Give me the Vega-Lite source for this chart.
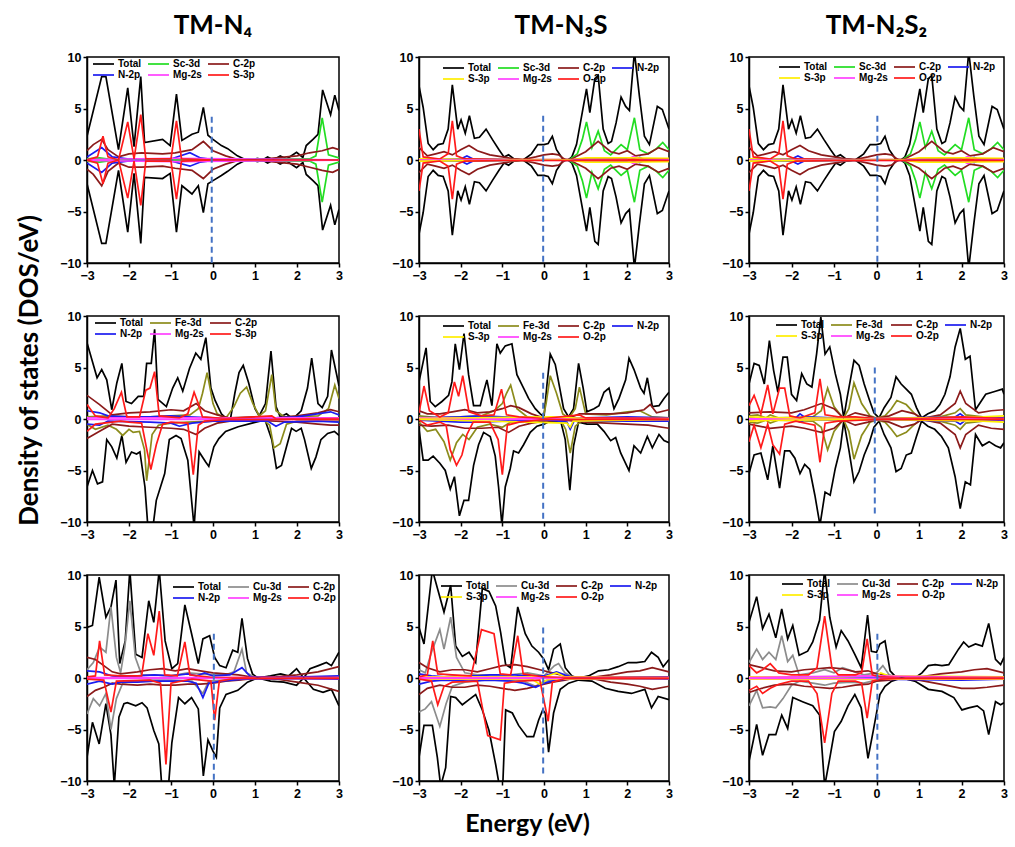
{
"$schema":"https://vega.github.io/schema/vega-lite/v6.json",
"padding":{"left":16,"top":12,"right":4,"bottom":4},
"config":{
"view":{"stroke":"#000","strokeWidth":1.5},
"font":"Liberation Sans",
"line":{"strokeWidth":1.7},
"rule":{"strokeDash":[6,4],"strokeWidth":2},
"axis":{"labelFont":"Liberation Sans","labelFontWeight":"bold","labelFontSize":12.5,"labelColor":"#000","tickColor":"#000","domainColor":"#000","domainWidth":1.5,"tickWidth":1.5,"tickSize":4,"grid":false,"labelPadding":2,"titleFont":"Lato","titleFontWeight":"bold","titleColor":"#000","labelFlush":false},
"axisX":{"tickCount":6},
"axisY":{"tickCount":4},
"legend":{"orient":"none","direction":"horizontal","labelFont":"Liberation Sans","labelFontWeight":"bold","labelFontSize":10,"labelColor":"#000","labelOffset":20,"columnPadding":1,"rowPadding":1,"symbolOpacity":1,"labelLimit":80},
"title":{"font":"Lato","fontSize":26,"fontWeight":"bold","color":"#000","anchor":"middle","frame":"group","offset":12}
},
"datasets":{
"p1":[
{"s":"Total","e":-3,"up":2.3,"dn":-2.3},{"s":"Total","e":-2.65,"up":8.1,"dn":-8.1},{"s":"Total","e":-2.55,"up":8.1,"dn":-8.1},{"s":"Total","e":-2.25,"up":1,"dn":-1},{"s":"Total","e":-2.03,"up":7,"dn":-7},{"s":"Total","e":-1.88,"up":1.3,"dn":-1.3},{"s":"Total","e":-1.72,"up":8.1,"dn":-8.1},{"s":"Total","e":-1.63,"up":1.7,"dn":-1.7},{"s":"Total","e":-1.2,"up":2,"dn":-1.8},{"s":"Total","e":-1.02,"up":1.4,"dn":-1.3},{"s":"Total","e":-0.87,"up":6.4,"dn":-7},{"s":"Total","e":-0.74,"up":1.9,"dn":-2.5},{"s":"Total","e":-0.5,"up":2.5,"dn":-3.3},{"s":"Total","e":-0.35,"up":2.7,"dn":-2.5},{"s":"Total","e":-0.23,"up":5.1,"dn":-5.1},{"s":"Total","e":-0.12,"up":2.4,"dn":-2.3},{"s":"Total","e":0,"up":2,"dn":-2},{"s":"Total","e":0.2,"up":1.4,"dn":-1.5},{"s":"Total","e":0.35,"up":1.1,"dn":-1.1},{"s":"Total","e":0.58,"up":0.4,"dn":-0.4},{"s":"Total","e":0.74,"up":0.1,"dn":-0.1},{"s":"Total","e":1,"up":0,"dn":0},{"s":"Total","e":1.05,"up":0.15,"dn":-0.15},{"s":"Total","e":1.2,"up":0.05,"dn":-0.05},{"s":"Total","e":1.3,"up":0.3,"dn":-0.3},{"s":"Total","e":1.44,"up":0,"dn":0},{"s":"Total","e":1.6,"up":0.4,"dn":-0.4},{"s":"Total","e":1.75,"up":0.1,"dn":-0.1},{"s":"Total","e":1.99,"up":0.75,"dn":-0.75},{"s":"Total","e":2.14,"up":0.25,"dn":-0.25},{"s":"Total","e":2.22,"up":1.4,"dn":-1.4},{"s":"Total","e":2.38,"up":2,"dn":-2},{"s":"Total","e":2.5,"up":2.5,"dn":-2.5},{"s":"Total","e":2.61,"up":6.8,"dn":-6.8},{"s":"Total","e":2.8,"up":4.4,"dn":-4.4},{"s":"Total","e":2.9,"up":6.3,"dn":-6.3},{"s":"Total","e":3,"up":4.8,"dn":-4.8},
{"s":"Sc-3d","e":-3,"up":0.1,"dn":-0.1},{"s":"Sc-3d","e":-2.7,"up":0.2,"dn":-0.2},{"s":"Sc-3d","e":-2.4,"up":0.05,"dn":-0.05},{"s":"Sc-3d","e":2.3,"up":0.1,"dn":-0.1},{"s":"Sc-3d","e":2.45,"up":0.4,"dn":-0.4},{"s":"Sc-3d","e":2.6,"up":4.1,"dn":-4.1},{"s":"Sc-3d","e":2.75,"up":0.5,"dn":-0.5},{"s":"Sc-3d","e":3,"up":0.2,"dn":-0.2},
{"s":"C-2p","e":-3,"up":0.9,"dn":-0.9},{"s":"C-2p","e":-2.85,"up":1.5,"dn":-1.4},{"s":"C-2p","e":-2.65,"up":2,"dn":-2.5},{"s":"C-2p","e":-2.5,"up":1,"dn":-1.1},{"s":"C-2p","e":-2.25,"up":0.3,"dn":-0.3},{"s":"C-2p","e":-2,"up":0.6,"dn":-0.7},{"s":"C-2p","e":-1.7,"up":0.7,"dn":-0.7},{"s":"C-2p","e":-1.2,"up":0.6,"dn":-0.6},{"s":"C-2p","e":-0.9,"up":0.7,"dn":-0.8},{"s":"C-2p","e":-0.5,"up":1,"dn":-1},{"s":"C-2p","e":-0.23,"up":1.8,"dn":-1.8},{"s":"C-2p","e":0,"up":0.9,"dn":-0.9},{"s":"C-2p","e":0.3,"up":0.4,"dn":-0.4},{"s":"C-2p","e":0.6,"up":0.05,"dn":-0.05},{"s":"C-2p","e":1,"up":0,"dn":0},{"s":"C-2p","e":1.5,"up":0.2,"dn":-0.2},{"s":"C-2p","e":2,"up":0.4,"dn":-0.4},{"s":"C-2p","e":2.3,"up":0.7,"dn":-0.7},{"s":"C-2p","e":2.6,"up":0.9,"dn":-1},{"s":"C-2p","e":2.85,"up":1.2,"dn":-1.2},{"s":"C-2p","e":3,"up":1,"dn":-0.9},
{"s":"N-2p","e":-3,"up":0.3,"dn":-0.3},{"s":"N-2p","e":-2.65,"up":1.2,"dn":-1.2},{"s":"N-2p","e":-2.4,"up":0.3,"dn":-0.3},{"s":"N-2p","e":-2,"up":0.1,"dn":-0.1},{"s":"N-2p","e":-1,"up":0.1,"dn":-0.1},{"s":"N-2p","e":-0.55,"up":0.7,"dn":-0.6},{"s":"N-2p","e":-0.3,"up":0.2,"dn":-0.2},{"s":"N-2p","e":0,"up":0.05,"dn":-0.05},{"s":"N-2p","e":3,"up":0,"dn":0},
{"s":"Mg-2s","e":-3,"up":0.05,"dn":-0.05},{"s":"Mg-2s","e":-0.9,"up":0.15,"dn":-0.15},{"s":"Mg-2s","e":3,"up":0.02,"dn":-0.02},
{"s":"S-3p","e":-3,"up":0,"dn":0},{"s":"S-3p","e":-2.75,"up":0.3,"dn":-0.3},{"s":"S-3p","e":-2.62,"up":2.3,"dn":-2.3},{"s":"S-3p","e":-2.5,"up":0.3,"dn":-0.3},{"s":"S-3p","e":-2.25,"up":0,"dn":0},{"s":"S-3p","e":-2.03,"up":3.7,"dn":-3.7},{"s":"S-3p","e":-1.88,"up":0.1,"dn":-0.1},{"s":"S-3p","e":-1.72,"up":4.4,"dn":-4.4},{"s":"S-3p","e":-1.6,"up":0.1,"dn":-0.1},{"s":"S-3p","e":-1,"up":0.1,"dn":-0.1},{"s":"S-3p","e":-0.87,"up":3.8,"dn":-3.8},{"s":"S-3p","e":-0.75,"up":0.1,"dn":-0.1},{"s":"S-3p","e":0,"up":0,"dn":0},{"s":"S-3p","e":3,"up":0,"dn":0}
],
"p2":[
{"s":"Total","e":-3,"up":7.2,"dn":-7.2},{"s":"Total","e":-2.9,"up":5.1,"dn":-5.1},{"s":"Total","e":-2.78,"up":1.6,"dn":-1.6},{"s":"Total","e":-2.66,"up":1,"dn":-1},{"s":"Total","e":-2.54,"up":1.5,"dn":-1.5},{"s":"Total","e":-2.42,"up":1.6,"dn":-1.6},{"s":"Total","e":-2.3,"up":3,"dn":-3},{"s":"Total","e":-2.2,"up":7.3,"dn":-7.3},{"s":"Total","e":-2.07,"up":3,"dn":-3},{"s":"Total","e":-1.99,"up":3.9,"dn":-3.9},{"s":"Total","e":-1.89,"up":2.6,"dn":-2.6},{"s":"Total","e":-1.79,"up":4.3,"dn":-4.3},{"s":"Total","e":-1.67,"up":2.1,"dn":-2.1},{"s":"Total","e":-1.55,"up":2.2,"dn":-2.2},{"s":"Total","e":-1.39,"up":3,"dn":-3},{"s":"Total","e":-1.24,"up":2,"dn":-2},{"s":"Total","e":-1.08,"up":1,"dn":-1},{"s":"Total","e":-0.96,"up":0.3,"dn":-0.3},{"s":"Total","e":-0.85,"up":0.5,"dn":-0.5},{"s":"Total","e":-0.72,"up":0.1,"dn":-0.1},{"s":"Total","e":-0.5,"up":0,"dn":0},{"s":"Total","e":-0.3,"up":0.6,"dn":-0.6},{"s":"Total","e":-0.15,"up":1.5,"dn":-1.5},{"s":"Total","e":0,"up":1.5,"dn":-1.5},{"s":"Total","e":0.1,"up":1.6,"dn":-1.6},{"s":"Total","e":0.2,"up":2.3,"dn":-2.3},{"s":"Total","e":0.3,"up":1,"dn":-1},{"s":"Total","e":0.45,"up":0.1,"dn":-0.1},{"s":"Total","e":0.58,"up":0,"dn":0},{"s":"Total","e":0.67,"up":0.3,"dn":-0.3},{"s":"Total","e":0.78,"up":1.5,"dn":-1.5},{"s":"Total","e":1.02,"up":6.9,"dn":-6.9},{"s":"Total","e":1.1,"up":4.6,"dn":-4.6},{"s":"Total","e":1.22,"up":7.9,"dn":-7.9},{"s":"Total","e":1.3,"up":8.2,"dn":-8.2},{"s":"Total","e":1.42,"up":3,"dn":-3},{"s":"Total","e":1.54,"up":1.6,"dn":-1.6},{"s":"Total","e":1.62,"up":1.8,"dn":-1.8},{"s":"Total","e":1.73,"up":3.6,"dn":-3.6},{"s":"Total","e":1.85,"up":6.1,"dn":-6.1},{"s":"Total","e":1.96,"up":5.2,"dn":-5.2},{"s":"Total","e":2.05,"up":4.8,"dn":-4.8},{"s":"Total","e":2.17,"up":10.5,"dn":-10.5},{"s":"Total","e":2.29,"up":6.2,"dn":-6.2},{"s":"Total","e":2.41,"up":2.3,"dn":-2.3},{"s":"Total","e":2.53,"up":1.5,"dn":-1.5},{"s":"Total","e":2.72,"up":5.2,"dn":-5.2},{"s":"Total","e":2.84,"up":4.9,"dn":-4.9},{"s":"Total","e":3,"up":3,"dn":-3},
{"s":"Sc-3d","e":-3,"up":0.1,"dn":-0.1},{"s":"Sc-3d","e":-2.7,"up":0.1,"dn":-0.1},{"s":"Sc-3d","e":-2.5,"up":0.05,"dn":-0.05},{"s":"Sc-3d","e":0.6,"up":0,"dn":0},{"s":"Sc-3d","e":0.8,"up":0.6,"dn":-0.6},{"s":"Sc-3d","e":0.92,"up":2,"dn":-2},{"s":"Sc-3d","e":1.02,"up":3.7,"dn":-3.7},{"s":"Sc-3d","e":1.15,"up":1.2,"dn":-1.2},{"s":"Sc-3d","e":1.3,"up":2.8,"dn":-2.8},{"s":"Sc-3d","e":1.45,"up":0.9,"dn":-0.9},{"s":"Sc-3d","e":1.6,"up":0.5,"dn":-0.5},{"s":"Sc-3d","e":1.85,"up":1.5,"dn":-1.5},{"s":"Sc-3d","e":2,"up":1,"dn":-1},{"s":"Sc-3d","e":2.17,"up":4.1,"dn":-4.1},{"s":"Sc-3d","e":2.3,"up":1,"dn":-1},{"s":"Sc-3d","e":2.5,"up":0.6,"dn":-0.6},{"s":"Sc-3d","e":2.7,"up":1.1,"dn":-1.1},{"s":"Sc-3d","e":2.85,"up":1.7,"dn":-1.7},{"s":"Sc-3d","e":3,"up":1,"dn":-1},
{"s":"C-2p","e":-3,"up":1.2,"dn":-1.2},{"s":"C-2p","e":-2.8,"up":0.4,"dn":-0.4},{"s":"C-2p","e":-2.6,"up":0.6,"dn":-0.6},{"s":"C-2p","e":-2.4,"up":0.8,"dn":-0.8},{"s":"C-2p","e":-2.2,"up":0.5,"dn":-0.5},{"s":"C-2p","e":-2,"up":1,"dn":-1},{"s":"C-2p","e":-1.8,"up":1.4,"dn":-1.4},{"s":"C-2p","e":-1.6,"up":0.9,"dn":-0.9},{"s":"C-2p","e":-1.3,"up":0.5,"dn":-0.5},{"s":"C-2p","e":-1,"up":0.3,"dn":-0.3},{"s":"C-2p","e":-0.7,"up":0.1,"dn":-0.1},{"s":"C-2p","e":-0.5,"up":0.05,"dn":-0.05},{"s":"C-2p","e":-0.2,"up":0.3,"dn":-0.3},{"s":"C-2p","e":0,"up":0.5,"dn":-0.5},{"s":"C-2p","e":0.2,"up":0.6,"dn":-0.6},{"s":"C-2p","e":0.35,"up":0.5,"dn":-0.5},{"s":"C-2p","e":0.5,"up":0.05,"dn":-0.05},{"s":"C-2p","e":0.65,"up":0.05,"dn":-0.05},{"s":"C-2p","e":0.8,"up":0.4,"dn":-0.4},{"s":"C-2p","e":1,"up":0.8,"dn":-0.8},{"s":"C-2p","e":1.3,"up":1.8,"dn":-1.8},{"s":"C-2p","e":1.6,"up":0.8,"dn":-0.8},{"s":"C-2p","e":1.8,"up":0.6,"dn":-0.6},{"s":"C-2p","e":2,"up":0.9,"dn":-0.9},{"s":"C-2p","e":2.2,"up":0.4,"dn":-0.4},{"s":"C-2p","e":2.5,"up":0.6,"dn":-0.6},{"s":"C-2p","e":2.75,"up":1.2,"dn":-1.2},{"s":"C-2p","e":3,"up":0.8,"dn":-0.8},
{"s":"N-2p","e":-3,"up":0.05,"dn":-0.05},{"s":"N-2p","e":-2,"up":0.1,"dn":-0.1},{"s":"N-2p","e":-1.85,"up":0.4,"dn":-0.4},{"s":"N-2p","e":-1.7,"up":0.1,"dn":-0.1},{"s":"N-2p","e":0,"up":0,"dn":0},{"s":"N-2p","e":2.2,"up":0.1,"dn":-0.1},{"s":"N-2p","e":2.3,"up":0.25,"dn":-0.25},{"s":"N-2p","e":2.4,"up":0.05,"dn":-0.05},{"s":"N-2p","e":3,"up":0.05,"dn":-0.05},
{"s":"Mg-2s","e":-3,"up":0,"dn":0},{"s":"Mg-2s","e":2,"up":0.05,"dn":-0.05},{"s":"Mg-2s","e":2.15,"up":0.35,"dn":-0.35},{"s":"Mg-2s","e":2.3,"up":0.05,"dn":-0.05},{"s":"Mg-2s","e":3,"up":0,"dn":0},
{"s":"S-3p","e":-3,"up":0.1,"dn":-0.1},{"s":"S-3p","e":-1,"up":0.05,"dn":-0.05},{"s":"S-3p","e":0.6,"up":0,"dn":0},{"s":"S-3p","e":1,"up":0.2,"dn":-0.2},{"s":"S-3p","e":2,"up":0.2,"dn":-0.2},{"s":"S-3p","e":3,"up":0.15,"dn":-0.15},
{"s":"O-2p","e":-3,"up":3,"dn":-3},{"s":"O-2p","e":-2.9,"up":0.3,"dn":-0.3},{"s":"O-2p","e":-2.5,"up":0.1,"dn":-0.1},{"s":"O-2p","e":-2.3,"up":0.6,"dn":-0.6},{"s":"O-2p","e":-2.2,"up":3.8,"dn":-3.8},{"s":"O-2p","e":-2.1,"up":0.4,"dn":-0.4},{"s":"O-2p","e":-1.9,"up":0.1,"dn":-0.1},{"s":"O-2p","e":-1,"up":0.05,"dn":-0.05},{"s":"O-2p","e":3,"up":0.05,"dn":-0.05}
],
"p4":[
{"s":"Total","e":-3,"up":7.4},{"s":"Total","e":-2.76,"up":4},{"s":"Total","e":-2.65,"up":4.8},{"s":"Total","e":-2.53,"up":3.8},{"s":"Total","e":-2.41,"up":0.9},{"s":"Total","e":-2.29,"up":3.5},{"s":"Total","e":-2.17,"up":5.4},{"s":"Total","e":-2.07,"up":1.7},{"s":"Total","e":-1.94,"up":1.5},{"s":"Total","e":-1.78,"up":2.2},{"s":"Total","e":-1.65,"up":2.2},{"s":"Total","e":-1.58,"up":5.4},{"s":"Total","e":-1.47,"up":5.4},{"s":"Total","e":-1.39,"up":8.7},{"s":"Total","e":-1.31,"up":1.9},{"s":"Total","e":-1.11,"up":1.2},{"s":"Total","e":-0.96,"up":3},{"s":"Total","e":-0.84,"up":4},{"s":"Total","e":-0.72,"up":2.7},{"s":"Total","e":-0.56,"up":4.9},{"s":"Total","e":-0.41,"up":6.4},{"s":"Total","e":-0.29,"up":5.8},{"s":"Total","e":-0.17,"up":7.9},{"s":"Total","e":-0.05,"up":3},{"s":"Total","e":0.05,"up":1.8},{"s":"Total","e":0.2,"up":0.5},{"s":"Total","e":0.3,"up":0.1},{"s":"Total","e":0.42,"up":0.1},{"s":"Total","e":0.52,"up":2.5},{"s":"Total","e":0.62,"up":4.5},{"s":"Total","e":0.72,"up":5.2},{"s":"Total","e":0.85,"up":3.5},{"s":"Total","e":1,"up":1},{"s":"Total","e":1.1,"up":0.3},{"s":"Total","e":1.25,"up":1.5},{"s":"Total","e":1.38,"up":6.6},{"s":"Total","e":1.5,"up":1.2},{"s":"Total","e":1.6,"up":0.2},{"s":"Total","e":1.75,"up":0.5},{"s":"Total","e":1.9,"up":0},{"s":"Total","e":2,"up":0.4},{"s":"Total","e":2.1,"up":0.8},{"s":"Total","e":2.25,"up":3},{"s":"Total","e":2.35,"up":5.9},{"s":"Total","e":2.5,"up":1.5},{"s":"Total","e":2.6,"up":1.1},{"s":"Total","e":2.73,"up":2.2},{"s":"Total","e":2.82,"up":6.7},{"s":"Total","e":2.95,"up":4.2},{"s":"Total","e":3,"up":3.2},
{"s":"Total","e":-3,"dn":-6.6},{"s":"Total","e":-2.87,"dn":-5},{"s":"Total","e":-2.75,"dn":-6.3},{"s":"Total","e":-2.63,"dn":-6.1},{"s":"Total","e":-2.53,"dn":-2},{"s":"Total","e":-2.41,"dn":-2.7},{"s":"Total","e":-2.29,"dn":-3.8},{"s":"Total","e":-2.17,"dn":-1.6},{"s":"Total","e":-2.07,"dn":-4.2},{"s":"Total","e":-1.94,"dn":-3.2},{"s":"Total","e":-1.82,"dn":-3.4},{"s":"Total","e":-1.74,"dn":-3.2},{"s":"Total","e":-1.62,"dn":-6.6},{"s":"Total","e":-1.55,"dn":-10.5},{"s":"Total","e":-1.43,"dn":-10.5},{"s":"Total","e":-1.35,"dn":-7.9},{"s":"Total","e":-1.15,"dn":-5.3},{"s":"Total","e":-1.04,"dn":-2},{"s":"Total","e":-0.88,"dn":-1.6},{"s":"Total","e":-0.76,"dn":-1.9},{"s":"Total","e":-0.6,"dn":-4},{"s":"Total","e":-0.45,"dn":-10.5},{"s":"Total","e":-0.33,"dn":-3.2},{"s":"Total","e":-0.17,"dn":-4.2},{"s":"Total","e":-0.1,"dn":-4.6},{"s":"Total","e":0.02,"dn":-2.7},{"s":"Total","e":0.14,"dn":-1.9},{"s":"Total","e":0.3,"dn":-1.2},{"s":"Total","e":0.6,"dn":-0.75},{"s":"Total","e":0.93,"dn":-0.4},{"s":"Total","e":1.24,"dn":-0.1},{"s":"Total","e":1.4,"dn":-2},{"s":"Total","e":1.51,"dn":-4.8},{"s":"Total","e":1.63,"dn":-4.5},{"s":"Total","e":1.75,"dn":-2.7},{"s":"Total","e":1.87,"dn":-0.9},{"s":"Total","e":1.98,"dn":-1.2},{"s":"Total","e":2.1,"dn":-0.9},{"s":"Total","e":2.18,"dn":-2},{"s":"Total","e":2.34,"dn":-4.8},{"s":"Total","e":2.45,"dn":-3.7},{"s":"Total","e":2.57,"dn":-2},{"s":"Total","e":2.73,"dn":-1.4},{"s":"Total","e":2.89,"dn":-1.2},{"s":"Total","e":3,"dn":-1.6},
{"s":"Fe-3d","e":-3,"up":0.2},{"s":"Fe-3d","e":-2.5,"up":0.3},{"s":"Fe-3d","e":-2,"up":0.2},{"s":"Fe-3d","e":-1.5,"up":0.2},{"s":"Fe-3d","e":-1,"up":0.3},{"s":"Fe-3d","e":-0.55,"up":0.4},{"s":"Fe-3d","e":-0.35,"up":1},{"s":"Fe-3d","e":-0.25,"up":2.5},{"s":"Fe-3d","e":-0.14,"up":4.5},{"s":"Fe-3d","e":0,"up":1.5},{"s":"Fe-3d","e":0.1,"up":0.5},{"s":"Fe-3d","e":0.3,"up":0.05},{"s":"Fe-3d","e":0.5,"up":1.2},{"s":"Fe-3d","e":0.65,"up":2.5},{"s":"Fe-3d","e":0.8,"up":3.1},{"s":"Fe-3d","e":0.95,"up":1.5},{"s":"Fe-3d","e":1.1,"up":0.3},{"s":"Fe-3d","e":1.25,"up":0.8},{"s":"Fe-3d","e":1.4,"up":4.3},{"s":"Fe-3d","e":1.5,"up":0.8},{"s":"Fe-3d","e":1.7,"up":0.2},{"s":"Fe-3d","e":2.5,"up":0.3},{"s":"Fe-3d","e":2.75,"up":1},{"s":"Fe-3d","e":2.9,"up":3.3},{"s":"Fe-3d","e":3,"up":2},
{"s":"Fe-3d","e":-3,"dn":-0.5},{"s":"Fe-3d","e":-2.8,"dn":-1},{"s":"Fe-3d","e":-2.5,"dn":-0.6},{"s":"Fe-3d","e":-2.3,"dn":-1},{"s":"Fe-3d","e":-2.15,"dn":-1.6},{"s":"Fe-3d","e":-2,"dn":-1},{"s":"Fe-3d","e":-1.9,"dn":-1.3},{"s":"Fe-3d","e":-1.75,"dn":-1.2},{"s":"Fe-3d","e":-1.63,"dn":-3},{"s":"Fe-3d","e":-1.58,"dn":-6},{"s":"Fe-3d","e":-1.45,"dn":-1.5},{"s":"Fe-3d","e":-1.3,"dn":-0.6},{"s":"Fe-3d","e":-1,"dn":-0.4},{"s":"Fe-3d","e":-0.6,"dn":-0.3},{"s":"Fe-3d","e":0,"dn":-0.2},{"s":"Fe-3d","e":0.5,"dn":-0.1},{"s":"Fe-3d","e":1.2,"dn":-0.1},{"s":"Fe-3d","e":1.35,"dn":-0.6},{"s":"Fe-3d","e":1.45,"dn":-2.8},{"s":"Fe-3d","e":1.6,"dn":-2.4},{"s":"Fe-3d","e":1.75,"dn":-0.5},{"s":"Fe-3d","e":2,"dn":-0.2},{"s":"Fe-3d","e":3,"dn":-0.2},
{"s":"C-2p","e":-3,"up":2.3,"dn":-1.9},{"s":"C-2p","e":-2.7,"up":1.4,"dn":-1.2},{"s":"C-2p","e":-2.4,"up":0.4,"dn":-0.5},{"s":"C-2p","e":-2,"up":0.6,"dn":-0.7},{"s":"C-2p","e":-1.5,"up":0.7,"dn":-0.8},{"s":"C-2p","e":-1,"up":0.9,"dn":-0.9},{"s":"C-2p","e":-0.7,"up":0.8,"dn":-1},{"s":"C-2p","e":-0.4,"up":1.5,"dn":-1.5},{"s":"C-2p","e":-0.2,"up":0.8,"dn":-0.9},{"s":"C-2p","e":0.1,"up":0.4,"dn":-0.4},{"s":"C-2p","e":0.4,"up":0.1,"dn":-0.2},{"s":"C-2p","e":1,"up":0.2,"dn":-0.1},{"s":"C-2p","e":1.5,"up":0.1,"dn":-0.2},{"s":"C-2p","e":2,"up":0.3,"dn":-0.3},{"s":"C-2p","e":2.5,"up":0.6,"dn":-0.5},{"s":"C-2p","e":2.8,"up":0.9,"dn":-0.6},{"s":"C-2p","e":3,"up":0.7,"dn":-0.6},
{"s":"N-2p","e":-3,"up":0.8},{"s":"N-2p","e":-2.7,"up":0.6},{"s":"N-2p","e":-2.5,"up":0.3},{"s":"N-2p","e":-2,"up":0.2},{"s":"N-2p","e":-1.5,"up":0.2},{"s":"N-2p","e":-1,"up":0.3},{"s":"N-2p","e":-0.6,"up":0.2},{"s":"N-2p","e":0,"up":0.1},{"s":"N-2p","e":1,"up":0.05},{"s":"N-2p","e":1.5,"up":0.1},{"s":"N-2p","e":2,"up":0.2},{"s":"N-2p","e":2.8,"up":0.7},{"s":"N-2p","e":3,"up":0.4},
{"s":"N-2p","e":-3,"dn":-0.5},{"s":"N-2p","e":-2.7,"dn":-0.6},{"s":"N-2p","e":-2.5,"dn":-0.2},{"s":"N-2p","e":-1.5,"dn":-0.3},{"s":"N-2p","e":-1,"dn":-0.4},{"s":"N-2p","e":-0.8,"dn":-0.7},{"s":"N-2p","e":-0.5,"dn":-0.4},{"s":"N-2p","e":0,"dn":-0.2},{"s":"N-2p","e":1.3,"dn":-0.2},{"s":"N-2p","e":1.5,"dn":-0.7},{"s":"N-2p","e":1.7,"dn":-0.3},{"s":"N-2p","e":2.5,"dn":-0.2},{"s":"N-2p","e":3,"dn":-0.3},
{"s":"Mg-2s","e":-3,"up":0.1,"dn":-0.05},{"s":"Mg-2s","e":0,"up":0.1,"dn":-0.05},{"s":"Mg-2s","e":3,"up":0.1,"dn":-0.05},
{"s":"S-3p","e":-3,"up":1.4},{"s":"S-3p","e":-2.8,"up":0.3},{"s":"S-3p","e":-2.5,"up":0.1},{"s":"S-3p","e":-2.35,"up":1},{"s":"S-3p","e":-2.18,"up":2.6},{"s":"S-3p","e":-2.05,"up":0.2},{"s":"S-3p","e":-1.75,"up":0.2},{"s":"S-3p","e":-1.6,"up":2.8},{"s":"S-3p","e":-1.5,"up":3},{"s":"S-3p","e":-1.39,"up":4.6},{"s":"S-3p","e":-1.28,"up":0.3},{"s":"S-3p","e":-0.8,"up":0.1},{"s":"S-3p","e":-0.6,"up":0.5},{"s":"S-3p","e":-0.45,"up":2.6},{"s":"S-3p","e":-0.35,"up":1.5},{"s":"S-3p","e":-0.25,"up":0.2},{"s":"S-3p","e":0.3,"up":0.05},{"s":"S-3p","e":1.4,"up":0.3},{"s":"S-3p","e":1.5,"up":0},{"s":"S-3p","e":3,"up":0.05},
{"s":"S-3p","e":-3,"dn":-1.2},{"s":"S-3p","e":-2.8,"dn":-0.5},{"s":"S-3p","e":-2.2,"dn":-0.2},{"s":"S-3p","e":-2,"dn":-0.3},{"s":"S-3p","e":-1.7,"dn":-0.4},{"s":"S-3p","e":-1.55,"dn":-3.5},{"s":"S-3p","e":-1.48,"dn":-4.9},{"s":"S-3p","e":-1.35,"dn":-2.5},{"s":"S-3p","e":-1.2,"dn":-0.5},{"s":"S-3p","e":-1,"dn":-0.3},{"s":"S-3p","e":-0.6,"dn":-0.4},{"s":"S-3p","e":-0.47,"dn":-5.4},{"s":"S-3p","e":-0.35,"dn":-0.6},{"s":"S-3p","e":-0.2,"dn":-0.2},{"s":"S-3p","e":0.3,"dn":-0.05},{"s":"S-3p","e":3,"dn":-0.05}
],
"p5":[
{"s":"Total","e":-3,"up":3.6},{"s":"Total","e":-2.83,"up":6.9},{"s":"Total","e":-2.73,"up":1.7},{"s":"Total","e":-2.61,"up":1.2},{"s":"Total","e":-2.45,"up":1.7},{"s":"Total","e":-2.29,"up":2.3},{"s":"Total","e":-2.21,"up":3.6},{"s":"Total","e":-2.13,"up":7.3},{"s":"Total","e":-2.03,"up":4.8},{"s":"Total","e":-1.92,"up":8.3},{"s":"Total","e":-1.81,"up":4.3},{"s":"Total","e":-1.69,"up":1.3},{"s":"Total","e":-1.53,"up":1.3},{"s":"Total","e":-1.45,"up":2.6},{"s":"Total","e":-1.37,"up":3.8},{"s":"Total","e":-1.25,"up":1.3},{"s":"Total","e":-1.13,"up":7.3},{"s":"Total","e":-1.05,"up":6.4},{"s":"Total","e":-0.93,"up":7.1},{"s":"Total","e":-0.77,"up":7.3},{"s":"Total","e":-0.65,"up":4.3},{"s":"Total","e":-0.49,"up":3},{"s":"Total","e":-0.37,"up":2},{"s":"Total","e":-0.21,"up":1},{"s":"Total","e":-0.09,"up":0.5},{"s":"Total","e":0,"up":0.2},{"s":"Total","e":0.07,"up":3.3},{"s":"Total","e":0.15,"up":6.3},{"s":"Total","e":0.27,"up":5.3},{"s":"Total","e":0.35,"up":3.6},{"s":"Total","e":0.47,"up":1},{"s":"Total","e":0.59,"up":0.2},{"s":"Total","e":0.71,"up":1},{"s":"Total","e":0.83,"up":5.4},{"s":"Total","e":0.94,"up":3},{"s":"Total","e":1.03,"up":0.7},{"s":"Total","e":1.2,"up":1},{"s":"Total","e":1.32,"up":1.3},{"s":"Total","e":1.44,"up":2.6},{"s":"Total","e":1.56,"up":3},{"s":"Total","e":1.68,"up":1},{"s":"Total","e":1.8,"up":2},{"s":"Total","e":1.96,"up":3.8},{"s":"Total","e":2.04,"up":5.9},{"s":"Total","e":2.16,"up":4.8},{"s":"Total","e":2.32,"up":3},{"s":"Total","e":2.4,"up":2.5},{"s":"Total","e":2.48,"up":4},{"s":"Total","e":2.6,"up":1.2},{"s":"Total","e":2.76,"up":1.3},{"s":"Total","e":2.88,"up":2},{"s":"Total","e":3,"up":2.6},
{"s":"Total","e":-3,"dn":-1},{"s":"Total","e":-2.9,"dn":-4},{"s":"Total","e":-2.78,"dn":-4},{"s":"Total","e":-2.66,"dn":-3.6},{"s":"Total","e":-2.5,"dn":-4.3},{"s":"Total","e":-2.37,"dn":-5},{"s":"Total","e":-2.25,"dn":-6.8},{"s":"Total","e":-2.15,"dn":-5.6},{"s":"Total","e":-2.03,"dn":-9.4},{"s":"Total","e":-1.92,"dn":-7.9},{"s":"Total","e":-1.81,"dn":-7.9},{"s":"Total","e":-1.69,"dn":-4.5},{"s":"Total","e":-1.57,"dn":-2.5},{"s":"Total","e":-1.45,"dn":-1.3},{"s":"Total","e":-1.29,"dn":-1.7},{"s":"Total","e":-1.17,"dn":-3.6},{"s":"Total","e":-1.09,"dn":-6.6},{"s":"Total","e":-1.01,"dn":-10.3},{"s":"Total","e":-0.93,"dn":-6.6},{"s":"Total","e":-0.81,"dn":-4.8},{"s":"Total","e":-0.73,"dn":-3.1},{"s":"Total","e":-0.61,"dn":-3.3},{"s":"Total","e":-0.49,"dn":-2.5},{"s":"Total","e":-0.33,"dn":-1.3},{"s":"Total","e":-0.17,"dn":-0.7},{"s":"Total","e":0,"dn":-0.5},{"s":"Total","e":0.15,"dn":-0.2},{"s":"Total","e":0.4,"dn":-0.2},{"s":"Total","e":0.51,"dn":-2},{"s":"Total","e":0.62,"dn":-6.9},{"s":"Total","e":0.71,"dn":-2.6},{"s":"Total","e":0.83,"dn":-0.3},{"s":"Total","e":1.03,"dn":-0.5},{"s":"Total","e":1.28,"dn":-0.5},{"s":"Total","e":1.44,"dn":-1.2},{"s":"Total","e":1.6,"dn":-2.1},{"s":"Total","e":1.72,"dn":-1.8},{"s":"Total","e":1.84,"dn":-3.3},{"s":"Total","e":2.04,"dn":-5},{"s":"Total","e":2.16,"dn":-2.6},{"s":"Total","e":2.32,"dn":-3.3},{"s":"Total","e":2.48,"dn":-1.7},{"s":"Total","e":2.6,"dn":-2.8},{"s":"Total","e":2.76,"dn":-1.5},{"s":"Total","e":2.88,"dn":-2.1},{"s":"Total","e":3,"dn":-2.3},
{"s":"Fe-3d","e":-3,"up":0.3},{"s":"Fe-3d","e":-2.5,"up":0.1},{"s":"Fe-3d","e":-2,"up":0.2},{"s":"Fe-3d","e":-1.5,"up":0.3},{"s":"Fe-3d","e":-1.2,"up":0.8},{"s":"Fe-3d","e":-1,"up":1.5},{"s":"Fe-3d","e":-0.9,"up":2.5},{"s":"Fe-3d","e":-0.8,"up":3.3},{"s":"Fe-3d","e":-0.65,"up":1},{"s":"Fe-3d","e":-0.4,"up":0.2},{"s":"Fe-3d","e":-0.02,"up":0.1},{"s":"Fe-3d","e":0.05,"up":1.5},{"s":"Fe-3d","e":0.15,"up":4.2},{"s":"Fe-3d","e":0.3,"up":2.5},{"s":"Fe-3d","e":0.45,"up":0.5},{"s":"Fe-3d","e":0.6,"up":0.1},{"s":"Fe-3d","e":0.75,"up":1},{"s":"Fe-3d","e":0.85,"up":3.1},{"s":"Fe-3d","e":1,"up":0.5},{"s":"Fe-3d","e":1.5,"up":0.4},{"s":"Fe-3d","e":2,"up":0.7},{"s":"Fe-3d","e":2.3,"up":0.8},{"s":"Fe-3d","e":2.6,"up":0.2},{"s":"Fe-3d","e":3,"up":0.1},
{"s":"Fe-3d","e":-3,"dn":-0.3},{"s":"Fe-3d","e":-2.8,"dn":-1.2},{"s":"Fe-3d","e":-2.6,"dn":-1},{"s":"Fe-3d","e":-2.4,"dn":-2.2},{"s":"Fe-3d","e":-2.25,"dn":-4},{"s":"Fe-3d","e":-2.1,"dn":-2.3},{"s":"Fe-3d","e":-1.95,"dn":-1.5},{"s":"Fe-3d","e":-1.8,"dn":-2},{"s":"Fe-3d","e":-1.6,"dn":-0.8},{"s":"Fe-3d","e":-1.3,"dn":-0.5},{"s":"Fe-3d","e":-1,"dn":-0.8},{"s":"Fe-3d","e":-0.8,"dn":-0.3},{"s":"Fe-3d","e":-0.4,"dn":-0.2},{"s":"Fe-3d","e":0,"dn":-0.1},{"s":"Fe-3d","e":0.4,"dn":-0.1},{"s":"Fe-3d","e":0.52,"dn":-1},{"s":"Fe-3d","e":0.63,"dn":-3.3},{"s":"Fe-3d","e":0.75,"dn":-0.7},{"s":"Fe-3d","e":0.9,"dn":-0.2},{"s":"Fe-3d","e":3,"dn":-0.1},
{"s":"C-2p","e":-3,"up":0.8},{"s":"C-2p","e":-2.8,"up":0.5},{"s":"C-2p","e":-2.5,"up":0.5},{"s":"C-2p","e":-2.2,"up":0.7},{"s":"C-2p","e":-1.9,"up":0.9},{"s":"C-2p","e":-1.6,"up":0.6},{"s":"C-2p","e":-1.3,"up":0.7},{"s":"C-2p","e":-1,"up":1},{"s":"C-2p","e":-0.8,"up":1.3},{"s":"C-2p","e":-0.6,"up":1.1},{"s":"C-2p","e":-0.3,"up":0.5},{"s":"C-2p","e":0,"up":0.1},{"s":"C-2p","e":0.6,"up":0.1},{"s":"C-2p","e":0.85,"up":0.5},{"s":"C-2p","e":1.2,"up":0.5},{"s":"C-2p","e":1.6,"up":0.5},{"s":"C-2p","e":2,"up":0.6},{"s":"C-2p","e":2.4,"up":0.9},{"s":"C-2p","e":2.55,"up":1.4},{"s":"C-2p","e":2.7,"up":0.6},{"s":"C-2p","e":3,"up":0.9},
{"s":"C-2p","e":-3,"dn":-0.6},{"s":"C-2p","e":-2.7,"dn":-0.7},{"s":"C-2p","e":-2.3,"dn":-0.6},{"s":"C-2p","e":-1.9,"dn":-0.9},{"s":"C-2p","e":-1.5,"dn":-0.9},{"s":"C-2p","e":-1.1,"dn":-0.8},{"s":"C-2p","e":-0.85,"dn":-1.3},{"s":"C-2p","e":-0.6,"dn":-0.7},{"s":"C-2p","e":-0.3,"dn":-0.4},{"s":"C-2p","e":0,"dn":-0.2},{"s":"C-2p","e":0.5,"dn":-0.1},{"s":"C-2p","e":1,"dn":-0.3},{"s":"C-2p","e":1.5,"dn":-0.4},{"s":"C-2p","e":2,"dn":-0.5},{"s":"C-2p","e":2.5,"dn":-0.6},{"s":"C-2p","e":3,"dn":-0.9},
{"s":"N-2p","e":-3,"up":0.1},{"s":"N-2p","e":-2,"up":0.2},{"s":"N-2p","e":-1.5,"up":0.3},{"s":"N-2p","e":-1,"up":0.2},{"s":"N-2p","e":0,"up":0.05},{"s":"N-2p","e":1,"up":0.1},{"s":"N-2p","e":2,"up":0.2},{"s":"N-2p","e":3,"up":0.1},
{"s":"N-2p","e":-3,"dn":-0.1},{"s":"N-2p","e":-2,"dn":-0.3},{"s":"N-2p","e":-1.5,"dn":-0.3},{"s":"N-2p","e":-1,"dn":-0.2},{"s":"N-2p","e":0,"dn":-0.05},{"s":"N-2p","e":0.55,"dn":-0.3},{"s":"N-2p","e":0.63,"dn":-1},{"s":"N-2p","e":0.72,"dn":-0.2},{"s":"N-2p","e":2,"dn":-0.2},{"s":"N-2p","e":3,"dn":-0.2},
{"s":"Mg-2s","e":-3,"up":0.1,"dn":-0.05},{"s":"Mg-2s","e":3,"up":0.05,"dn":-0.05},
{"s":"S-3p","e":-3,"up":0.05},{"s":"S-3p","e":0.2,"up":0.2},{"s":"S-3p","e":1,"up":0.05},{"s":"S-3p","e":3,"up":0.05},
{"s":"S-3p","e":-3,"dn":-0.05},{"s":"S-3p","e":0.55,"dn":-0.4},{"s":"S-3p","e":0.63,"dn":-0.8},{"s":"S-3p","e":0.7,"dn":-0.2},{"s":"S-3p","e":3,"dn":-0.05},
{"s":"O-2p","e":-3,"up":0.6},{"s":"O-2p","e":-2.88,"up":3.2},{"s":"O-2p","e":-2.75,"up":0.8},{"s":"O-2p","e":-2.5,"up":0.2},{"s":"O-2p","e":-2.3,"up":0.6},{"s":"O-2p","e":-2.15,"up":3.6},{"s":"O-2p","e":-2.05,"up":2.2},{"s":"O-2p","e":-1.95,"up":4.2},{"s":"O-2p","e":-1.8,"up":0.7},{"s":"O-2p","e":-1.5,"up":0.3},{"s":"O-2p","e":-1.2,"up":0.4},{"s":"O-2p","e":-1.02,"up":2.9},{"s":"O-2p","e":-0.9,"up":0.4},{"s":"O-2p","e":-0.6,"up":0.2},{"s":"O-2p","e":0,"up":0.05},{"s":"O-2p","e":0.85,"up":0.4},{"s":"O-2p","e":1,"up":0.1},{"s":"O-2p","e":3,"up":0.05},
{"s":"O-2p","e":-3,"dn":-0.1},{"s":"O-2p","e":-2.8,"dn":-0.6},{"s":"O-2p","e":-2.5,"dn":-0.3},{"s":"O-2p","e":-2.35,"dn":-0.6},{"s":"O-2p","e":-2.25,"dn":-3},{"s":"O-2p","e":-2.1,"dn":-4.5},{"s":"O-2p","e":-1.97,"dn":-3.5},{"s":"O-2p","e":-1.85,"dn":-1.5},{"s":"O-2p","e":-1.7,"dn":-0.3},{"s":"O-2p","e":-1.3,"dn":-0.3},{"s":"O-2p","e":-1.1,"dn":-2},{"s":"O-2p","e":-1,"dn":-5.4},{"s":"O-2p","e":-0.88,"dn":-0.6},{"s":"O-2p","e":-0.6,"dn":-0.3},{"s":"O-2p","e":0,"dn":-0.05},{"s":"O-2p","e":3,"dn":-0.05}
],
"p6":[
{"s":"Total","e":-3,"up":3.4},{"s":"Total","e":-2.88,"up":5.4},{"s":"Total","e":-2.76,"up":5.2},{"s":"Total","e":-2.64,"up":3.4},{"s":"Total","e":-2.52,"up":7.6},{"s":"Total","e":-2.42,"up":4.7},{"s":"Total","e":-2.32,"up":2.6},{"s":"Total","e":-2.2,"up":6},{"s":"Total","e":-2.1,"up":6},{"s":"Total","e":-2,"up":2.4},{"s":"Total","e":-1.88,"up":1.8},{"s":"Total","e":-1.76,"up":4.4},{"s":"Total","e":-1.64,"up":3.4},{"s":"Total","e":-1.52,"up":3.1},{"s":"Total","e":-1.41,"up":6.3},{"s":"Total","e":-1.31,"up":9.9},{"s":"Total","e":-1.21,"up":6.3},{"s":"Total","e":-1.1,"up":7},{"s":"Total","e":-0.97,"up":4.4},{"s":"Total","e":-0.85,"up":2.4},{"s":"Total","e":-0.77,"up":0.1},{"s":"Total","e":-0.69,"up":2.1},{"s":"Total","e":-0.53,"up":5.7},{"s":"Total","e":-0.41,"up":5.2},{"s":"Total","e":-0.29,"up":3.4},{"s":"Total","e":-0.17,"up":1.9},{"s":"Total","e":-0.06,"up":0.6},{"s":"Total","e":0.06,"up":0.1},{"s":"Total","e":0.18,"up":1.1},{"s":"Total","e":0.34,"up":2.1},{"s":"Total","e":0.46,"up":4.1},{"s":"Total","e":0.58,"up":3.4},{"s":"Total","e":0.7,"up":2.9},{"s":"Total","e":0.82,"up":2.4},{"s":"Total","e":0.94,"up":1.1},{"s":"Total","e":1.06,"up":0.1},{"s":"Total","e":1.21,"up":0.5},{"s":"Total","e":1.37,"up":0.8},{"s":"Total","e":1.49,"up":1.4},{"s":"Total","e":1.61,"up":2.4},{"s":"Total","e":1.73,"up":4.1},{"s":"Total","e":1.85,"up":7},{"s":"Total","e":1.97,"up":8.8},{"s":"Total","e":2.09,"up":5.8},{"s":"Total","e":2.2,"up":6.1},{"s":"Total","e":2.33,"up":0.9},{"s":"Total","e":2.57,"up":2.4},{"s":"Total","e":2.8,"up":2.7},{"s":"Total","e":2.96,"up":2.9},{"s":"Total","e":3,"up":2.4},
{"s":"Total","e":-3,"dn":-5.3},{"s":"Total","e":-2.88,"dn":-3.5},{"s":"Total","e":-2.72,"dn":-3.3},{"s":"Total","e":-2.56,"dn":-5.9},{"s":"Total","e":-2.44,"dn":-2.6},{"s":"Total","e":-2.28,"dn":-6.7},{"s":"Total","e":-2.16,"dn":-3.1},{"s":"Total","e":-2.04,"dn":-3.1},{"s":"Total","e":-1.92,"dn":-3.8},{"s":"Total","e":-1.8,"dn":-5.3},{"s":"Total","e":-1.69,"dn":-4.4},{"s":"Total","e":-1.57,"dn":-4.9},{"s":"Total","e":-1.45,"dn":-7.4},{"s":"Total","e":-1.33,"dn":-10.3},{"s":"Total","e":-1.21,"dn":-7.1},{"s":"Total","e":-1.09,"dn":-7.4},{"s":"Total","e":-0.97,"dn":-4.8},{"s":"Total","e":-0.85,"dn":-2.8},{"s":"Total","e":-0.77,"dn":-0.2},{"s":"Total","e":-0.65,"dn":-3},{"s":"Total","e":-0.53,"dn":-6.1},{"s":"Total","e":-0.41,"dn":-5.1},{"s":"Total","e":-0.29,"dn":-3.5},{"s":"Total","e":-0.17,"dn":-2.3},{"s":"Total","e":-0.06,"dn":-0.8},{"s":"Total","e":0.06,"dn":-0.2},{"s":"Total","e":0.18,"dn":-1.5},{"s":"Total","e":0.34,"dn":-2.8},{"s":"Total","e":0.46,"dn":-5.1},{"s":"Total","e":0.58,"dn":-4.8},{"s":"Total","e":0.7,"dn":-3.5},{"s":"Total","e":0.82,"dn":-3.3},{"s":"Total","e":0.94,"dn":-1.7},{"s":"Total","e":1.06,"dn":-0.2},{"s":"Total","e":1.21,"dn":-0.7},{"s":"Total","e":1.37,"dn":-1},{"s":"Total","e":1.53,"dn":-1.7},{"s":"Total","e":1.69,"dn":-2.8},{"s":"Total","e":1.85,"dn":-5.6},{"s":"Total","e":1.97,"dn":-8.7},{"s":"Total","e":2.09,"dn":-6.1},{"s":"Total","e":2.21,"dn":-6.4},{"s":"Total","e":2.33,"dn":-1.5},{"s":"Total","e":2.49,"dn":-2.6},{"s":"Total","e":2.65,"dn":-2.2},{"s":"Total","e":2.8,"dn":-2.6},{"s":"Total","e":2.92,"dn":-2.8},{"s":"Total","e":3,"dn":-2.3},
{"s":"Fe-3d","e":-3,"up":0.3,"dn":-0.3},{"s":"Fe-3d","e":-2.8,"up":0.4,"dn":-0.4},{"s":"Fe-3d","e":-2.6,"up":0.1,"dn":-0.1},{"s":"Fe-3d","e":-2.5,"up":0.4,"dn":-0.4},{"s":"Fe-3d","e":-2.3,"up":0.1,"dn":-0.1},{"s":"Fe-3d","e":-1.5,"up":0.2,"dn":-0.2},{"s":"Fe-3d","e":-1.3,"up":0.8,"dn":-0.8},{"s":"Fe-3d","e":-1.15,"up":3,"dn":-3},{"s":"Fe-3d","e":-1,"up":1.2,"dn":-1.2},{"s":"Fe-3d","e":-0.78,"up":0.05,"dn":-0.05},{"s":"Fe-3d","e":-0.65,"up":1,"dn":-1.2},{"s":"Fe-3d","e":-0.53,"up":3.5,"dn":-3.9},{"s":"Fe-3d","e":-0.35,"up":1.5,"dn":-1.6},{"s":"Fe-3d","e":-0.15,"up":0.3,"dn":-0.3},{"s":"Fe-3d","e":0,"up":0.1,"dn":-0.1},{"s":"Fe-3d","e":0.2,"up":0.3,"dn":-0.3},{"s":"Fe-3d","e":0.35,"up":1,"dn":-1},{"s":"Fe-3d","e":0.48,"up":1.8,"dn":-1.7},{"s":"Fe-3d","e":0.7,"up":1.4,"dn":-1.3},{"s":"Fe-3d","e":0.9,"up":0.5,"dn":-0.5},{"s":"Fe-3d","e":1.06,"up":0.05,"dn":-0.05},{"s":"Fe-3d","e":1.5,"up":0.2,"dn":-0.2},{"s":"Fe-3d","e":1.85,"up":0.6,"dn":-0.6},{"s":"Fe-3d","e":1.97,"up":1,"dn":-1},{"s":"Fe-3d","e":2.1,"up":0.4,"dn":-0.4},{"s":"Fe-3d","e":2.5,"up":0.2,"dn":-0.2},{"s":"Fe-3d","e":3,"up":0.1,"dn":-0.1},
{"s":"C-2p","e":-3,"up":0.6,"dn":-0.5},{"s":"C-2p","e":-2.5,"up":0.7,"dn":-0.9},{"s":"C-2p","e":-2,"up":0.6,"dn":-0.7},{"s":"C-2p","e":-1.7,"up":0.9,"dn":-0.9},{"s":"C-2p","e":-1.3,"up":1.5,"dn":-1.3},{"s":"C-2p","e":-1,"up":1,"dn":-0.9},{"s":"C-2p","e":-0.78,"up":0.1,"dn":-0.1},{"s":"C-2p","e":-0.5,"up":0.6,"dn":-0.6},{"s":"C-2p","e":-0.2,"up":0.3,"dn":-0.3},{"s":"C-2p","e":0,"up":0.05,"dn":-0.05},{"s":"C-2p","e":0.3,"up":0.3,"dn":-0.3},{"s":"C-2p","e":0.6,"up":0.8,"dn":-0.8},{"s":"C-2p","e":0.9,"up":0.5,"dn":-0.5},{"s":"C-2p","e":1.06,"up":0.05,"dn":-0.05},{"s":"C-2p","e":1.5,"up":0.4,"dn":-0.4},{"s":"C-2p","e":1.85,"up":1.5,"dn":-1.5},{"s":"C-2p","e":1.97,"up":2.7,"dn":-2.8},{"s":"C-2p","e":2.1,"up":1.5,"dn":-1.5},{"s":"C-2p","e":2.4,"up":0.6,"dn":-0.6},{"s":"C-2p","e":2.7,"up":0.8,"dn":-0.9},{"s":"C-2p","e":3,"up":0.9,"dn":-1},
{"s":"N-2p","e":-3,"up":0.1,"dn":-0.1},{"s":"N-2p","e":-1.9,"up":0.1,"dn":-0.1},{"s":"N-2p","e":-1.8,"up":0.5,"dn":-0.3},{"s":"N-2p","e":-1.7,"up":0.2,"dn":-0.1},{"s":"N-2p","e":-1,"up":0.1,"dn":-0.1},{"s":"N-2p","e":0,"up":0.05,"dn":-0.05},{"s":"N-2p","e":1.85,"up":0.2,"dn":-0.2},{"s":"N-2p","e":1.97,"up":0.5,"dn":-0.5},{"s":"N-2p","e":2.1,"up":0.1,"dn":-0.1},{"s":"N-2p","e":3,"up":0.1,"dn":-0.1},
{"s":"Mg-2s","e":-3,"up":0.05,"dn":-0.05},{"s":"Mg-2s","e":3,"up":0.05,"dn":-0.05},
{"s":"S-3p","e":-3,"up":0.2,"dn":-0.2},{"s":"S-3p","e":-2,"up":0.1,"dn":-0.1},{"s":"S-3p","e":0,"up":0.05,"dn":-0.05},{"s":"S-3p","e":2.5,"up":0.2,"dn":-0.2},{"s":"S-3p","e":3,"up":0.3,"dn":-0.3},
{"s":"O-2p","e":-3,"up":1.3},{"s":"O-2p","e":-2.88,"up":2.3},{"s":"O-2p","e":-2.72,"up":0.5},{"s":"O-2p","e":-2.56,"up":3.3},{"s":"O-2p","e":-2.44,"up":0.5},{"s":"O-2p","e":-2.28,"up":3},{"s":"O-2p","e":-2.16,"up":3},{"s":"O-2p","e":-2.04,"up":0.3},{"s":"O-2p","e":-1.8,"up":0.1},{"s":"O-2p","e":-1.45,"up":0.6},{"s":"O-2p","e":-1.33,"up":3.9},{"s":"O-2p","e":-1.21,"up":0.4},{"s":"O-2p","e":-0.9,"up":0.2},{"s":"O-2p","e":-0.5,"up":0.2},{"s":"O-2p","e":0,"up":0.05},{"s":"O-2p","e":1,"up":0.05},{"s":"O-2p","e":2,"up":0.2},{"s":"O-2p","e":3,"up":0.05},
{"s":"O-2p","e":-3,"dn":-2.2},{"s":"O-2p","e":-2.88,"dn":-0.6},{"s":"O-2p","e":-2.72,"dn":-2.8},{"s":"O-2p","e":-2.56,"dn":-0.5},{"s":"O-2p","e":-2.44,"dn":-2.5},{"s":"O-2p","e":-2.28,"dn":-3.4},{"s":"O-2p","e":-2.16,"dn":-0.5},{"s":"O-2p","e":-1.9,"dn":-0.2},{"s":"O-2p","e":-1.45,"dn":-0.6},{"s":"O-2p","e":-1.33,"dn":-4.2},{"s":"O-2p","e":-1.21,"dn":-0.4},{"s":"O-2p","e":-0.9,"dn":-0.2},{"s":"O-2p","e":0,"dn":-0.05},{"s":"O-2p","e":3,"dn":-0.05}
],
"p7":[
{"s":"Total","e":-3,"up":4.9},{"s":"Total","e":-2.87,"up":5.1},{"s":"Total","e":-2.71,"up":9.8},{"s":"Total","e":-2.55,"up":5.9},{"s":"Total","e":-2.43,"up":6.9},{"s":"Total","e":-2.31,"up":9.5},{"s":"Total","e":-2.22,"up":1.4},{"s":"Total","e":-2.09,"up":3.6},{"s":"Total","e":-1.98,"up":10.5},{"s":"Total","e":-1.84,"up":2.3},{"s":"Total","e":-1.69,"up":2},{"s":"Total","e":-1.53,"up":7.5},{"s":"Total","e":-1.41,"up":5.4},{"s":"Total","e":-1.28,"up":10.5},{"s":"Total","e":-1.14,"up":3.6},{"s":"Total","e":-0.98,"up":0.9},{"s":"Total","e":-0.84,"up":1.4},{"s":"Total","e":-0.67,"up":7.1},{"s":"Total","e":-0.51,"up":4.3},{"s":"Total","e":-0.35,"up":1.4},{"s":"Total","e":-0.24,"up":3.8},{"s":"Total","e":-0.08,"up":4.1},{"s":"Total","e":0.04,"up":2},{"s":"Total","e":0.16,"up":1.2},{"s":"Total","e":0.31,"up":1},{"s":"Total","e":0.47,"up":2.7},{"s":"Total","e":0.59,"up":2.5},{"s":"Total","e":0.69,"up":5.8},{"s":"Total","e":0.82,"up":1.9},{"s":"Total","e":0.94,"up":0.4},{"s":"Total","e":1.06,"up":0},{"s":"Total","e":1.37,"up":0.2},{"s":"Total","e":1.61,"up":0.4},{"s":"Total","e":1.8,"up":0.2},{"s":"Total","e":1.99,"up":0.9},{"s":"Total","e":2.16,"up":0},{"s":"Total","e":2.31,"up":0.9},{"s":"Total","e":2.51,"up":1.2},{"s":"Total","e":2.7,"up":1.5},{"s":"Total","e":2.82,"up":1.2},{"s":"Total","e":3,"up":2.5},
{"s":"Total","e":-3,"dn":-7.7},{"s":"Total","e":-2.87,"dn":-4.3},{"s":"Total","e":-2.71,"dn":-6.4},{"s":"Total","e":-2.55,"dn":-2.5},{"s":"Total","e":-2.43,"dn":-5.5},{"s":"Total","e":-2.35,"dn":-10.5},{"s":"Total","e":-2.24,"dn":-3.8},{"s":"Total","e":-2.12,"dn":-2.5},{"s":"Total","e":-2.04,"dn":-2.4},{"s":"Total","e":-1.84,"dn":-2.7},{"s":"Total","e":-1.69,"dn":-2.4},{"s":"Total","e":-1.57,"dn":-2.9},{"s":"Total","e":-1.41,"dn":-5.1},{"s":"Total","e":-1.29,"dn":-6.4},{"s":"Total","e":-1.22,"dn":-10.5},{"s":"Total","e":-1.06,"dn":-10.5},{"s":"Total","e":-0.98,"dn":-6.3},{"s":"Total","e":-0.82,"dn":-1.9},{"s":"Total","e":-0.67,"dn":-2.5},{"s":"Total","e":-0.51,"dn":-1.9},{"s":"Total","e":-0.35,"dn":-3},{"s":"Total","e":-0.23,"dn":-9.5},{"s":"Total","e":-0.12,"dn":-6},{"s":"Total","e":0,"dn":-7.1},{"s":"Total","e":0.08,"dn":-7.7},{"s":"Total","e":0.16,"dn":-2.9},{"s":"Total","e":0.31,"dn":-1.6},{"s":"Total","e":0.59,"dn":-1.2},{"s":"Total","e":0.82,"dn":-0.4},{"s":"Total","e":1.06,"dn":0},{"s":"Total","e":1.37,"dn":-0.3},{"s":"Total","e":1.69,"dn":-0.4},{"s":"Total","e":1.99,"dn":-0.7},{"s":"Total","e":2.16,"dn":0},{"s":"Total","e":2.39,"dn":-1.1},{"s":"Total","e":2.62,"dn":-1.4},{"s":"Total","e":2.82,"dn":-1.1},{"s":"Total","e":3,"dn":-2.7},
{"s":"Cu-3d","e":-3,"up":0.8},{"s":"Cu-3d","e":-2.85,"up":1.5},{"s":"Cu-3d","e":-2.7,"up":3},{"s":"Cu-3d","e":-2.55,"up":2.5},{"s":"Cu-3d","e":-2.43,"up":6.9},{"s":"Cu-3d","e":-2.3,"up":2},{"s":"Cu-3d","e":-2.2,"up":0.5},{"s":"Cu-3d","e":-2.1,"up":3},{"s":"Cu-3d","e":-1.98,"up":7.5},{"s":"Cu-3d","e":-1.85,"up":2},{"s":"Cu-3d","e":-1.7,"up":0.3},{"s":"Cu-3d","e":-1.4,"up":0.3},{"s":"Cu-3d","e":-1,"up":0.2},{"s":"Cu-3d","e":-0.6,"up":0.5},{"s":"Cu-3d","e":-0.3,"up":0.4},{"s":"Cu-3d","e":0,"up":0.3},{"s":"Cu-3d","e":0.3,"up":0.3},{"s":"Cu-3d","e":0.5,"up":0.6},{"s":"Cu-3d","e":0.69,"up":2.8},{"s":"Cu-3d","e":0.8,"up":0.5},{"s":"Cu-3d","e":1,"up":0.05},{"s":"Cu-3d","e":3,"up":0.05},
{"s":"Cu-3d","e":-3,"dn":-3.5},{"s":"Cu-3d","e":-2.85,"dn":-2},{"s":"Cu-3d","e":-2.7,"dn":-2.7},{"s":"Cu-3d","e":-2.55,"dn":-1.5},{"s":"Cu-3d","e":-2.43,"dn":-5},{"s":"Cu-3d","e":-2.3,"dn":-2},{"s":"Cu-3d","e":-2.15,"dn":-0.5},{"s":"Cu-3d","e":-1.9,"dn":-0.3},{"s":"Cu-3d","e":-1.5,"dn":-0.2},{"s":"Cu-3d","e":-1,"dn":-0.2},{"s":"Cu-3d","e":-0.5,"dn":-0.3},{"s":"Cu-3d","e":-0.24,"dn":-1.5},{"s":"Cu-3d","e":-0.1,"dn":-0.3},{"s":"Cu-3d","e":0.3,"dn":-0.2},{"s":"Cu-3d","e":1,"dn":-0.05},{"s":"Cu-3d","e":3,"dn":-0.05},
{"s":"C-2p","e":-3,"up":2,"dn":-1.8},{"s":"C-2p","e":-2.8,"up":1.8,"dn":-1.2},{"s":"C-2p","e":-2.6,"up":1.2,"dn":-0.9},{"s":"C-2p","e":-2.4,"up":0.6,"dn":-0.5},{"s":"C-2p","e":-2.2,"up":0.4,"dn":-0.6},{"s":"C-2p","e":-1.8,"up":0.6,"dn":-0.7},{"s":"C-2p","e":-1.5,"up":0.8,"dn":-0.6},{"s":"C-2p","e":-1.2,"up":0.9,"dn":-0.7},{"s":"C-2p","e":-0.9,"up":0.7,"dn":-0.7},{"s":"C-2p","e":-0.6,"up":0.9,"dn":-0.6},{"s":"C-2p","e":-0.3,"up":0.7,"dn":-0.6},{"s":"C-2p","e":0,"up":0.5,"dn":-0.5},{"s":"C-2p","e":0.3,"up":0.4,"dn":-0.3},{"s":"C-2p","e":0.6,"up":0.3,"dn":-0.2},{"s":"C-2p","e":1,"up":0.05,"dn":-0.05},{"s":"C-2p","e":1.5,"up":0.1,"dn":-0.1},{"s":"C-2p","e":2,"up":0.3,"dn":-0.4},{"s":"C-2p","e":2.5,"up":0.6,"dn":-0.7},{"s":"C-2p","e":3,"up":1.1,"dn":-1.3},
{"s":"N-2p","e":-3,"up":0.7},{"s":"N-2p","e":-2.7,"up":0.6},{"s":"N-2p","e":-2.4,"up":0.2},{"s":"N-2p","e":-2.1,"up":0.1},{"s":"N-2p","e":-1.8,"up":0.2},{"s":"N-2p","e":-1.4,"up":0.3},{"s":"N-2p","e":-1,"up":0.2},{"s":"N-2p","e":-0.6,"up":0.4},{"s":"N-2p","e":-0.4,"up":0.2},{"s":"N-2p","e":-0.2,"up":0.5},{"s":"N-2p","e":0,"up":0.2},{"s":"N-2p","e":0.4,"up":0.3},{"s":"N-2p","e":0.69,"up":1},{"s":"N-2p","e":0.9,"up":0.1},{"s":"N-2p","e":1.5,"up":0.05},{"s":"N-2p","e":3,"up":0.2},
{"s":"N-2p","e":-3,"dn":-0.6},{"s":"N-2p","e":-2.7,"dn":-0.3},{"s":"N-2p","e":-2.4,"dn":-0.6},{"s":"N-2p","e":-2.2,"dn":-0.4},{"s":"N-2p","e":-1.8,"dn":-0.4},{"s":"N-2p","e":-1.4,"dn":-0.3},{"s":"N-2p","e":-1,"dn":-0.3},{"s":"N-2p","e":-0.6,"dn":-0.3},{"s":"N-2p","e":-0.4,"dn":-0.5},{"s":"N-2p","e":-0.24,"dn":-1.9},{"s":"N-2p","e":-0.1,"dn":-0.5},{"s":"N-2p","e":0.2,"dn":-0.3},{"s":"N-2p","e":0.7,"dn":-0.1},{"s":"N-2p","e":1.5,"dn":-0.05},{"s":"N-2p","e":3,"dn":-0.1},
{"s":"Mg-2s","e":-3,"up":0.05,"dn":-0.05},{"s":"Mg-2s","e":3,"up":0.05,"dn":-0.05},
{"s":"O-2p","e":-3,"up":0.1},{"s":"O-2p","e":-2.8,"up":0.2},{"s":"O-2p","e":-2.7,"up":3.6},{"s":"O-2p","e":-2.58,"up":0.3},{"s":"O-2p","e":-2.2,"up":0.2},{"s":"O-2p","e":-1.7,"up":0.2},{"s":"O-2p","e":-1.55,"up":4.3},{"s":"O-2p","e":-1.41,"up":2.2},{"s":"O-2p","e":-1.28,"up":6.5},{"s":"O-2p","e":-1.15,"up":0.3},{"s":"O-2p","e":-0.85,"up":0.2},{"s":"O-2p","e":-0.67,"up":3.5},{"s":"O-2p","e":-0.55,"up":0.3},{"s":"O-2p","e":0,"up":0.05},{"s":"O-2p","e":3,"up":0.05},
{"s":"O-2p","e":-3,"dn":-0.1},{"s":"O-2p","e":-2.6,"dn":-0.2},{"s":"O-2p","e":-2.43,"dn":-3.3},{"s":"O-2p","e":-2.3,"dn":-0.3},{"s":"O-2p","e":-1.5,"dn":-0.2},{"s":"O-2p","e":-1.25,"dn":-0.5},{"s":"O-2p","e":-1.12,"dn":-8.4},{"s":"O-2p","e":-1,"dn":-0.5},{"s":"O-2p","e":-0.5,"dn":-0.1},{"s":"O-2p","e":-0.05,"dn":-0.3},{"s":"O-2p","e":0.04,"dn":-4.1},{"s":"O-2p","e":0.15,"dn":-0.3},{"s":"O-2p","e":0.5,"dn":-0.05},{"s":"O-2p","e":3,"dn":-0.05}
],
"p8":[
{"s":"Total","e":-3,"up":4.9},{"s":"Total","e":-2.88,"up":3.3},{"s":"Total","e":-2.68,"up":10.5},{"s":"Total","e":-2.4,"up":6.4},{"s":"Total","e":-2.24,"up":9},{"s":"Total","e":-2.12,"up":3.1},{"s":"Total","e":-1.96,"up":2.1},{"s":"Total","e":-1.8,"up":2.5},{"s":"Total","e":-1.64,"up":1.5},{"s":"Total","e":-1.48,"up":8.7},{"s":"Total","e":-1.32,"up":8.4},{"s":"Total","e":-1.16,"up":7},{"s":"Total","e":-1.04,"up":4.4},{"s":"Total","e":-0.92,"up":1.3},{"s":"Total","e":-0.8,"up":1},{"s":"Total","e":-0.63,"up":6.9},{"s":"Total","e":-0.45,"up":4.3},{"s":"Total","e":-0.29,"up":3.1},{"s":"Total","e":-0.13,"up":2.5},{"s":"Total","e":0,"up":1.8},{"s":"Total","e":0.11,"up":0.8},{"s":"Total","e":0.23,"up":2.8},{"s":"Total","e":0.39,"up":3.3},{"s":"Total","e":0.51,"up":1},{"s":"Total","e":0.67,"up":0.2},{"s":"Total","e":0.83,"up":0},{"s":"Total","e":1.07,"up":0.2},{"s":"Total","e":1.31,"up":0.7},{"s":"Total","e":1.55,"up":0.8},{"s":"Total","e":1.78,"up":1.1},{"s":"Total","e":2.02,"up":1.5},{"s":"Total","e":2.22,"up":1.5},{"s":"Total","e":2.42,"up":1.6},{"s":"Total","e":2.58,"up":2.5},{"s":"Total","e":2.74,"up":2},{"s":"Total","e":2.86,"up":1.1},{"s":"Total","e":3,"up":1.8},
{"s":"Total","e":-3,"dn":-7.7},{"s":"Total","e":-2.88,"dn":-4.6},{"s":"Total","e":-2.68,"dn":-4.6},{"s":"Total","e":-2.56,"dn":-7.7},{"s":"Total","e":-2.48,"dn":-10.5},{"s":"Total","e":-2.36,"dn":-8.7},{"s":"Total","e":-2.24,"dn":-1.8},{"s":"Total","e":-2.12,"dn":-1.9},{"s":"Total","e":-1.96,"dn":-2.6},{"s":"Total","e":-1.8,"dn":-2.1},{"s":"Total","e":-1.64,"dn":-1.6},{"s":"Total","e":-1.48,"dn":-3.1},{"s":"Total","e":-1.32,"dn":-5.1},{"s":"Total","e":-1.16,"dn":-8.4},{"s":"Total","e":-1.07,"dn":-10.5},{"s":"Total","e":-0.99,"dn":-10.5},{"s":"Total","e":-0.92,"dn":-3.1},{"s":"Total","e":-0.76,"dn":-3.4},{"s":"Total","e":-0.61,"dn":-4.6},{"s":"Total","e":-0.41,"dn":-5.7},{"s":"Total","e":-0.25,"dn":-5.7},{"s":"Total","e":-0.13,"dn":-4.1},{"s":"Total","e":-0.03,"dn":-3.1},{"s":"Total","e":0.03,"dn":-3.4},{"s":"Total","e":0.11,"dn":-7.2},{"s":"Total","e":0.23,"dn":-3.4},{"s":"Total","e":0.39,"dn":-1.1},{"s":"Total","e":0.59,"dn":-0.5},{"s":"Total","e":0.83,"dn":-0.2},{"s":"Total","e":1.15,"dn":-0.3},{"s":"Total","e":1.47,"dn":-1},{"s":"Total","e":1.78,"dn":-1.3},{"s":"Total","e":2.1,"dn":-1.5},{"s":"Total","e":2.42,"dn":-1.1},{"s":"Total","e":2.58,"dn":-2.9},{"s":"Total","e":2.74,"dn":-1.8},{"s":"Total","e":3,"dn":-2.1},
{"s":"Cu-3d","e":-3,"up":0.8},{"s":"Cu-3d","e":-2.85,"up":0.5},{"s":"Cu-3d","e":-2.7,"up":2.5},{"s":"Cu-3d","e":-2.5,"up":4.7},{"s":"Cu-3d","e":-2.4,"up":2.8},{"s":"Cu-3d","e":-2.24,"up":5.9},{"s":"Cu-3d","e":-2.1,"up":2},{"s":"Cu-3d","e":-1.9,"up":0.5},{"s":"Cu-3d","e":-1.6,"up":0.3},{"s":"Cu-3d","e":-1.2,"up":0.3},{"s":"Cu-3d","e":-0.8,"up":0.3},{"s":"Cu-3d","e":-0.4,"up":0.5},{"s":"Cu-3d","e":0,"up":0.2},{"s":"Cu-3d","e":0.25,"up":1.2},{"s":"Cu-3d","e":0.35,"up":1.4},{"s":"Cu-3d","e":0.5,"up":0.5},{"s":"Cu-3d","e":0.7,"up":0.05},{"s":"Cu-3d","e":3,"up":0.05},
{"s":"Cu-3d","e":-3,"dn":-3.3},{"s":"Cu-3d","e":-2.85,"dn":-3},{"s":"Cu-3d","e":-2.7,"dn":-2.3},{"s":"Cu-3d","e":-2.5,"dn":-4.7},{"s":"Cu-3d","e":-2.35,"dn":-2.5},{"s":"Cu-3d","e":-2.2,"dn":-0.8},{"s":"Cu-3d","e":-1.9,"dn":-0.4},{"s":"Cu-3d","e":-1.5,"dn":-0.2},{"s":"Cu-3d","e":-1,"dn":-0.2},{"s":"Cu-3d","e":-0.5,"dn":-0.3},{"s":"Cu-3d","e":-0.2,"dn":-0.8},{"s":"Cu-3d","e":0,"dn":-0.3},{"s":"Cu-3d","e":0.5,"dn":-0.1},{"s":"Cu-3d","e":3,"dn":-0.05},
{"s":"C-2p","e":-3,"up":1.5,"dn":-1.6},{"s":"C-2p","e":-2.8,"up":1,"dn":-1},{"s":"C-2p","e":-2.5,"up":0.6,"dn":-0.7},{"s":"C-2p","e":-2.2,"up":0.8,"dn":-0.9},{"s":"C-2p","e":-1.9,"up":0.8,"dn":-0.9},{"s":"C-2p","e":-1.6,"up":0.6,"dn":-0.7},{"s":"C-2p","e":-1.3,"up":0.9,"dn":-0.8},{"s":"C-2p","e":-1,"up":1.2,"dn":-1},{"s":"C-2p","e":-0.7,"up":1.3,"dn":-1.2},{"s":"C-2p","e":-0.4,"up":1.1,"dn":-1},{"s":"C-2p","e":-0.1,"up":0.8,"dn":-0.7},{"s":"C-2p","e":0.2,"up":0.5,"dn":-0.4},{"s":"C-2p","e":0.5,"up":0.2,"dn":-0.2},{"s":"C-2p","e":0.7,"up":0.05,"dn":-0.05},{"s":"C-2p","e":1.2,"up":0.1,"dn":-0.1},{"s":"C-2p","e":1.6,"up":0.3,"dn":-0.4},{"s":"C-2p","e":2,"up":0.6,"dn":-0.6},{"s":"C-2p","e":2.3,"up":0.7,"dn":-0.8},{"s":"C-2p","e":2.6,"up":1,"dn":-1.1},{"s":"C-2p","e":3,"up":0.6,"dn":-0.8},
{"s":"N-2p","e":-3,"up":0.4},{"s":"N-2p","e":-2.7,"up":0.2},{"s":"N-2p","e":-2.4,"up":0.1},{"s":"N-2p","e":-2,"up":0.2},{"s":"N-2p","e":-1.6,"up":0.2},{"s":"N-2p","e":-1.3,"up":0.3},{"s":"N-2p","e":-1,"up":0.3},{"s":"N-2p","e":-0.7,"up":0.3},{"s":"N-2p","e":-0.4,"up":0.2},{"s":"N-2p","e":0,"up":0.2},{"s":"N-2p","e":0.3,"up":0.6},{"s":"N-2p","e":0.5,"up":0.3},{"s":"N-2p","e":0.7,"up":0.05},{"s":"N-2p","e":2,"up":0.1},{"s":"N-2p","e":3,"up":0.1},
{"s":"N-2p","e":-3,"dn":-0.6},{"s":"N-2p","e":-2.7,"dn":-0.3},{"s":"N-2p","e":-2.4,"dn":-0.2},{"s":"N-2p","e":-1.8,"dn":-0.3},{"s":"N-2p","e":-1.3,"dn":-0.2},{"s":"N-2p","e":-0.8,"dn":-0.3},{"s":"N-2p","e":-0.5,"dn":-0.5},{"s":"N-2p","e":-0.2,"dn":-0.9},{"s":"N-2p","e":0,"dn":-0.5},{"s":"N-2p","e":0.3,"dn":-0.2},{"s":"N-2p","e":0.7,"dn":-0.05},{"s":"N-2p","e":3,"dn":-0.1},
{"s":"S-3p","e":-3,"up":0.1},{"s":"S-3p","e":0,"up":0.1},{"s":"S-3p","e":0.3,"up":0.5},{"s":"S-3p","e":0.5,"up":0.1},{"s":"S-3p","e":3,"up":0.05},
{"s":"S-3p","e":-3,"dn":-0.1},{"s":"S-3p","e":-0.3,"dn":-0.1},{"s":"S-3p","e":-0.1,"dn":-0.6},{"s":"S-3p","e":0.1,"dn":-0.1},{"s":"S-3p","e":3,"dn":-0.05},
{"s":"Mg-2s","e":-3,"up":0.05,"dn":-0.05},{"s":"Mg-2s","e":3,"up":0.05,"dn":-0.05},
{"s":"O-2p","e":-3,"up":0.1},{"s":"O-2p","e":-2.8,"up":0.3},{"s":"O-2p","e":-2.67,"up":3.6},{"s":"O-2p","e":-2.55,"up":0.4},{"s":"O-2p","e":-2.2,"up":0.3},{"s":"O-2p","e":-1.75,"up":0.2},{"s":"O-2p","e":-1.5,"up":4.7},{"s":"O-2p","e":-1.2,"up":4.3},{"s":"O-2p","e":-1.05,"up":0.4},{"s":"O-2p","e":-0.8,"up":0.3},{"s":"O-2p","e":-0.63,"up":4.1},{"s":"O-2p","e":-0.5,"up":0.4},{"s":"O-2p","e":0,"up":0.1},{"s":"O-2p","e":0.5,"up":0.05},{"s":"O-2p","e":3,"up":0.05},
{"s":"O-2p","e":-3,"dn":-0.1},{"s":"O-2p","e":-2.7,"dn":-0.3},{"s":"O-2p","e":-2.55,"dn":-2.6},{"s":"O-2p","e":-2.4,"dn":-0.8},{"s":"O-2p","e":-2.2,"dn":-0.4},{"s":"O-2p","e":-1.6,"dn":-0.3},{"s":"O-2p","e":-1.35,"dn":-5.6},{"s":"O-2p","e":-1.05,"dn":-6},{"s":"O-2p","e":-0.95,"dn":-0.5},{"s":"O-2p","e":-0.6,"dn":-0.3},{"s":"O-2p","e":-0.1,"dn":-0.2},{"s":"O-2p","e":0.1,"dn":-4.2},{"s":"O-2p","e":0.2,"dn":-0.4},{"s":"O-2p","e":0.5,"dn":-0.05},{"s":"O-2p","e":3,"dn":-0.05}
],
"p9":[
{"s":"Total","e":-3,"up":5.4},{"s":"Total","e":-2.82,"up":7.9},{"s":"Total","e":-2.68,"up":4.8},{"s":"Total","e":-2.53,"up":6.2},{"s":"Total","e":-2.37,"up":3.9},{"s":"Total","e":-2.23,"up":6.7},{"s":"Total","e":-2.09,"up":3.8},{"s":"Total","e":-1.97,"up":5.1},{"s":"Total","e":-1.82,"up":2.2},{"s":"Total","e":-1.62,"up":2.6},{"s":"Total","e":-1.5,"up":3.5},{"s":"Total","e":-1.34,"up":5.6},{"s":"Total","e":-1.22,"up":10.5},{"s":"Total","e":-1.1,"up":5.9},{"s":"Total","e":-0.95,"up":3},{"s":"Total","e":-0.83,"up":4.6},{"s":"Total","e":-0.67,"up":3.6},{"s":"Total","e":-0.51,"up":2.3},{"s":"Total","e":-0.36,"up":1},{"s":"Total","e":-0.21,"up":6.1},{"s":"Total","e":-0.12,"up":2.6},{"s":"Total","e":0,"up":2.5},{"s":"Total","e":0.08,"up":3.3},{"s":"Total","e":0.2,"up":3.6},{"s":"Total","e":0.32,"up":0.7},{"s":"Total","e":0.43,"up":0.2},{"s":"Total","e":0.59,"up":0},{"s":"Total","e":0.9,"up":0},{"s":"Total","e":1.07,"up":0.5},{"s":"Total","e":1.22,"up":1.2},{"s":"Total","e":1.38,"up":1.3},{"s":"Total","e":1.54,"up":1.2},{"s":"Total","e":1.7,"up":1.3},{"s":"Total","e":1.93,"up":2.8},{"s":"Total","e":2.05,"up":3.5},{"s":"Total","e":2.17,"up":3},{"s":"Total","e":2.33,"up":3.3},{"s":"Total","e":2.49,"up":3.1},{"s":"Total","e":2.64,"up":5.3},{"s":"Total","e":2.8,"up":1.8},{"s":"Total","e":2.92,"up":1.3},{"s":"Total","e":3,"up":2},
{"s":"Total","e":-3,"dn":-8.1},{"s":"Total","e":-2.82,"dn":-4.5},{"s":"Total","e":-2.68,"dn":-7.5},{"s":"Total","e":-2.53,"dn":-5.5},{"s":"Total","e":-2.37,"dn":-5.5},{"s":"Total","e":-2.23,"dn":-3.6},{"s":"Total","e":-2.09,"dn":-4.9},{"s":"Total","e":-1.97,"dn":-1.9},{"s":"Total","e":-1.74,"dn":-2.3},{"s":"Total","e":-1.5,"dn":-2.7},{"s":"Total","e":-1.34,"dn":-3.6},{"s":"Total","e":-1.22,"dn":-10.5},{"s":"Total","e":-1.1,"dn":-7.8},{"s":"Total","e":-0.99,"dn":-5.2},{"s":"Total","e":-0.83,"dn":-4.2},{"s":"Total","e":-0.67,"dn":-2.7},{"s":"Total","e":-0.51,"dn":-1.6},{"s":"Total","e":-0.36,"dn":-2.9},{"s":"Total","e":-0.2,"dn":-7.8},{"s":"Total","e":-0.08,"dn":-5.2},{"s":"Total","e":0.08,"dn":-1.6},{"s":"Total","e":0.2,"dn":-0.8},{"s":"Total","e":0.36,"dn":-0.3},{"s":"Total","e":0.59,"dn":0},{"s":"Total","e":0.9,"dn":-0.3},{"s":"Total","e":1.22,"dn":-1.1},{"s":"Total","e":1.54,"dn":-1.3},{"s":"Total","e":1.82,"dn":-1.9},{"s":"Total","e":2.01,"dn":-3.1},{"s":"Total","e":2.17,"dn":-2.9},{"s":"Total","e":2.37,"dn":-2.7},{"s":"Total","e":2.52,"dn":-3.2},{"s":"Total","e":2.64,"dn":-5.5},{"s":"Total","e":2.8,"dn":-2.3},{"s":"Total","e":2.92,"dn":-2.6},{"s":"Total","e":3,"dn":-2.4},
{"s":"Cu-3d","e":-3,"up":1.5},{"s":"Cu-3d","e":-2.82,"up":2.8},{"s":"Cu-3d","e":-2.68,"up":1.8},{"s":"Cu-3d","e":-2.53,"up":2.5},{"s":"Cu-3d","e":-2.37,"up":1.8},{"s":"Cu-3d","e":-2.23,"up":4.1},{"s":"Cu-3d","e":-2.09,"up":1.6},{"s":"Cu-3d","e":-1.97,"up":2.2},{"s":"Cu-3d","e":-1.82,"up":0.3},{"s":"Cu-3d","e":-1.5,"up":0.5},{"s":"Cu-3d","e":-1.22,"up":0.8},{"s":"Cu-3d","e":-1,"up":0.5},{"s":"Cu-3d","e":-0.8,"up":1},{"s":"Cu-3d","e":-0.5,"up":0.6},{"s":"Cu-3d","e":-0.3,"up":0.3},{"s":"Cu-3d","e":0,"up":0.5},{"s":"Cu-3d","e":0.15,"up":1.2},{"s":"Cu-3d","e":0.3,"up":0.3},{"s":"Cu-3d","e":0.5,"up":0.05},{"s":"Cu-3d","e":3,"up":0.05},
{"s":"Cu-3d","e":-3,"dn":-2.7},{"s":"Cu-3d","e":-2.82,"dn":-1.2},{"s":"Cu-3d","e":-2.68,"dn":-2.9},{"s":"Cu-3d","e":-2.5,"dn":-2.8},{"s":"Cu-3d","e":-2.37,"dn":-2.9},{"s":"Cu-3d","e":-2.2,"dn":-2},{"s":"Cu-3d","e":-2,"dn":-0.7},{"s":"Cu-3d","e":-1.8,"dn":-0.3},{"s":"Cu-3d","e":-1.5,"dn":-0.5},{"s":"Cu-3d","e":-1.22,"dn":-0.7},{"s":"Cu-3d","e":-1,"dn":-0.5},{"s":"Cu-3d","e":-0.6,"dn":-0.4},{"s":"Cu-3d","e":-0.3,"dn":-0.5},{"s":"Cu-3d","e":0,"dn":-0.2},{"s":"Cu-3d","e":0.3,"dn":-0.1},{"s":"Cu-3d","e":0.5,"dn":-0.05},{"s":"Cu-3d","e":3,"dn":-0.05},
{"s":"C-2p","e":-3,"up":1.3,"dn":-1.4},{"s":"C-2p","e":-2.7,"up":1,"dn":-1},{"s":"C-2p","e":-2.4,"up":0.7,"dn":-0.7},{"s":"C-2p","e":-2,"up":0.6,"dn":-0.6},{"s":"C-2p","e":-1.7,"up":0.8,"dn":-0.8},{"s":"C-2p","e":-1.4,"up":0.9,"dn":-0.9},{"s":"C-2p","e":-1.1,"up":1,"dn":-1},{"s":"C-2p","e":-0.8,"up":0.9,"dn":-0.9},{"s":"C-2p","e":-0.5,"up":0.6,"dn":-0.7},{"s":"C-2p","e":-0.2,"up":0.7,"dn":-0.6},{"s":"C-2p","e":0,"up":0.4,"dn":-0.3},{"s":"C-2p","e":0.3,"up":0.2,"dn":-0.2},{"s":"C-2p","e":0.5,"up":0.05,"dn":-0.05},{"s":"C-2p","e":1,"up":0.1,"dn":-0.2},{"s":"C-2p","e":1.5,"up":0.4,"dn":-0.6},{"s":"C-2p","e":2,"up":0.6,"dn":-1},{"s":"C-2p","e":2.3,"up":0.8,"dn":-1},{"s":"C-2p","e":2.6,"up":0.9,"dn":-0.9},{"s":"C-2p","e":3,"up":0.5,"dn":-0.7},
{"s":"N-2p","e":-3,"up":0.1,"dn":-0.1},{"s":"N-2p","e":-1,"up":0.1,"dn":-0.1},{"s":"N-2p","e":0,"up":0.1,"dn":-0.1},{"s":"N-2p","e":2,"up":0.1,"dn":-0.2},{"s":"N-2p","e":3,"up":0.1,"dn":-0.1},
{"s":"S-3p","e":-3,"up":0.1,"dn":-0.1},{"s":"S-3p","e":-1,"up":0.1,"dn":-0.1},{"s":"S-3p","e":0,"up":0.2,"dn":-0.1},{"s":"S-3p","e":0.1,"up":0.5,"dn":-0.1},{"s":"S-3p","e":0.3,"up":0.2,"dn":-0.1},{"s":"S-3p","e":3,"up":0.1,"dn":-0.1},
{"s":"Mg-2s","e":-3,"up":0.05,"dn":-0.05},{"s":"Mg-2s","e":-0.3,"up":0.2,"dn":-0.05},{"s":"Mg-2s","e":3,"up":0.05,"dn":-0.05},
{"s":"O-2p","e":-3,"up":1.2,"dn":-1.2},{"s":"O-2p","e":-2.82,"up":0.5,"dn":-0.8},{"s":"O-2p","e":-2.68,"up":0.8,"dn":-1.5},{"s":"O-2p","e":-2.5,"up":1.4,"dn":-1},{"s":"O-2p","e":-2.3,"up":0.5,"dn":-0.6},{"s":"O-2p","e":-2,"up":0.3,"dn":-0.3},{"s":"O-2p","e":-1.6,"up":0.3,"dn":-0.3},{"s":"O-2p","e":-1.4,"up":1,"dn":-1.5},{"s":"O-2p","e":-1.22,"up":6,"dn":-6.3},{"s":"O-2p","e":-1.05,"up":1,"dn":-1.5},{"s":"O-2p","e":-0.9,"up":0.3,"dn":-0.3},{"s":"O-2p","e":-0.5,"up":0.3,"dn":-0.3},{"s":"O-2p","e":-0.35,"up":0.5,"dn":-0.5},{"s":"O-2p","e":-0.22,"up":3.8,"dn":-3.9},{"s":"O-2p","e":-0.1,"up":0.3,"dn":-0.3},{"s":"O-2p","e":0.1,"up":0.1,"dn":-0.1},{"s":"O-2p","e":0.5,"up":0.05,"dn":-0.05},{"s":"O-2p","e":3,"up":0.05,"dn":-0.05}
]
},
"columns":3,
"align":"each",
"bounds":"flush",
"spacing":{"row":53,"column":80},
"resolve":{"scale":{"color":"independent"},"legend":{"color":"independent"}},
"concat":[
{"width":252,"height":206,"title":{"text":"TM-N₄"},
"encoding":{"x":{"field":"e","type":"quantitative","title":null,"scale":{"domain":[-3,3]}},
"color":{"field":"s","type":"nominal","title":null,"scale":{"domain":["Total","Sc-3d","C-2p","N-2p","Mg-2s","S-3p"],"range":["#000000","#22dd22","#8b1a1a","#1c1cf0","#ff40ff","#ff1a1a"]},"legend":{"legendX":1,"legendY":2,"columns":3,"symbolType":"M0,0H7","symbolSize":36,"symbolStrokeWidth":2}}},
"layer":[
{"data":{"name":"p1"},"transform":[{"filter":"isValid(datum.up)"}],"mark":{"type":"line","clip":true},"encoding":{"y":{"field":"up","type":"quantitative","title":null,"scale":{"domain":[-10,10]}}}},
{"data":{"name":"p1"},"transform":[{"filter":"isValid(datum.dn)"}],"mark":{"type":"line","clip":true},"encoding":{"y":{"field":"dn","type":"quantitative","title":null,"scale":{"domain":[-10,10]}}}},
{"data":{"values":[{"e":-0.03,"t":4.2,"b":-10}]},"mark":{"type":"rule"},"encoding":{"y":{"field":"t","type":"quantitative","title":null,"scale":{"domain":[-10,10]}},"y2":{"field":"b"},"color":{"value":"#4472c4"}}}
]},
{"width":250,"height":206,"title":{"text":"TM-N₃S","dx":17},
"encoding":{"x":{"field":"e","type":"quantitative","title":null,"scale":{"domain":[-3,3]}},
"color":{"field":"s","type":"nominal","title":null,"scale":{"domain":["Total","Sc-3d","C-2p","N-2p","S-3p","Mg-2s","O-2p"],"range":["#000000","#22dd22","#8b1a1a","#1c1cf0","#ffee00","#ff40ff","#ff1a1a"]},"legend":{"legendX":19,"legendY":6,"columns":4,"symbolType":"M0,0H7","symbolSize":36,"symbolStrokeWidth":2}}},
"layer":[
{"data":{"name":"p2"},"transform":[{"filter":"isValid(datum.up)"}],"mark":{"type":"line","clip":true},"encoding":{"y":{"field":"up","type":"quantitative","title":null,"scale":{"domain":[-10,10]}}}},
{"data":{"name":"p2"},"transform":[{"filter":"isValid(datum.dn)"}],"mark":{"type":"line","clip":true},"encoding":{"y":{"field":"dn","type":"quantitative","title":null,"scale":{"domain":[-10,10]}}}},
{"data":{"values":[{"e":-0.02,"t":4.3,"b":-10}]},"mark":{"type":"rule"},"encoding":{"y":{"field":"t","type":"quantitative","title":null,"scale":{"domain":[-10,10]}},"y2":{"field":"b"},"color":{"value":"#4472c4"}}}
]},
{"width":255,"height":206,"title":{"text":"TM-N₂S₂"},
"encoding":{"x":{"field":"e","type":"quantitative","title":null,"scale":{"domain":[-3,3]}},
"color":{"field":"s","type":"nominal","title":null,"scale":{"domain":["Total","Sc-3d","C-2p","N-2p","S-3p","Mg-2s","O-2p"],"range":["#000000","#22dd22","#8b1a1a","#1c1cf0","#ffee00","#ff40ff","#ff1a1a"]},"legend":{"legendX":25,"legendY":5,"columns":4,"symbolType":"M0,0H7","symbolSize":36,"symbolStrokeWidth":2}}},
"layer":[
{"data":{"name":"p2"},"transform":[{"filter":"isValid(datum.up)"}],"mark":{"type":"line","clip":true},"encoding":{"y":{"field":"up","type":"quantitative","title":null,"scale":{"domain":[-10,10]}}}},
{"data":{"name":"p2"},"transform":[{"filter":"isValid(datum.dn)"}],"mark":{"type":"line","clip":true},"encoding":{"y":{"field":"dn","type":"quantitative","title":null,"scale":{"domain":[-10,10]}}}},
{"data":{"values":[{"e":0.02,"t":4.3,"b":-10}]},"mark":{"type":"rule"},"encoding":{"y":{"field":"t","type":"quantitative","title":null,"scale":{"domain":[-10,10]}},"y2":{"field":"b"},"color":{"value":"#4472c4"}}}
]},
{"width":252,"height":206,
"encoding":{"x":{"field":"e","type":"quantitative","title":null,"scale":{"domain":[-3,3]}},
"color":{"field":"s","type":"nominal","title":null,"scale":{"domain":["Total","Fe-3d","C-2p","N-2p","Mg-2s","S-3p"],"range":["#000000","#8c8c1c","#8b1a1a","#1c1cf0","#ff40ff","#ff1a1a"]},"legend":{"legendX":3,"legendY":2,"columns":3,"symbolType":"M0,0H7","symbolSize":36,"symbolStrokeWidth":2}}},
"layer":[
{"data":{"name":"p4"},"transform":[{"filter":"isValid(datum.up)"}],"mark":{"type":"line","clip":true},"encoding":{"y":{"field":"up","type":"quantitative","title":"Density of states (DOS/eV)","scale":{"domain":[-10,10]},"axis":{"titleFontSize":26,"titlePadding":17,"titleY":54}}}},
{"data":{"name":"p4"},"transform":[{"filter":"isValid(datum.dn)"}],"mark":{"type":"line","clip":true},"encoding":{"y":{"field":"dn","type":"quantitative","title":"Density of states (DOS/eV)","scale":{"domain":[-10,10]}}}}
]},
{"width":250,"height":206,
"encoding":{"x":{"field":"e","type":"quantitative","title":null,"scale":{"domain":[-3,3]}},
"color":{"field":"s","type":"nominal","title":null,"scale":{"domain":["Total","Fe-3d","C-2p","N-2p","S-3p","Mg-2s","O-2p"],"range":["#000000","#8c8c1c","#8b1a1a","#1c1cf0","#ffee00","#ff40ff","#ff1a1a"]},"legend":{"legendX":19,"legendY":5,"columns":4,"symbolType":"M0,0H7","symbolSize":36,"symbolStrokeWidth":2}}},
"layer":[
{"data":{"name":"p5"},"transform":[{"filter":"isValid(datum.up)"}],"mark":{"type":"line","clip":true},"encoding":{"y":{"field":"up","type":"quantitative","title":null,"scale":{"domain":[-10,10]}}}},
{"data":{"name":"p5"},"transform":[{"filter":"isValid(datum.dn)"}],"mark":{"type":"line","clip":true},"encoding":{"y":{"field":"dn","type":"quantitative","title":null,"scale":{"domain":[-10,10]}}}},
{"data":{"values":[{"e":-0.02,"t":4.5,"b":-10}]},"mark":{"type":"rule"},"encoding":{"y":{"field":"t","type":"quantitative","title":null,"scale":{"domain":[-10,10]}},"y2":{"field":"b"},"color":{"value":"#4472c4"}}}
]},
{"width":255,"height":206,
"encoding":{"x":{"field":"e","type":"quantitative","title":null,"scale":{"domain":[-3,3]}},
"color":{"field":"s","type":"nominal","title":null,"scale":{"domain":["Total","Fe-3d","C-2p","N-2p","S-3p","Mg-2s","O-2p"],"range":["#000000","#8c8c1c","#8b1a1a","#1c1cf0","#ffee00","#ff40ff","#ff1a1a"]},"legend":{"legendX":22,"legendY":4,"columns":4,"symbolType":"M0,0H7","symbolSize":36,"symbolStrokeWidth":2}}},
"layer":[
{"data":{"name":"p6"},"transform":[{"filter":"isValid(datum.up)"}],"mark":{"type":"line","clip":true},"encoding":{"y":{"field":"up","type":"quantitative","title":null,"scale":{"domain":[-10,10]}}}},
{"data":{"name":"p6"},"transform":[{"filter":"isValid(datum.dn)"}],"mark":{"type":"line","clip":true},"encoding":{"y":{"field":"dn","type":"quantitative","title":null,"scale":{"domain":[-10,10]}}}},
{"data":{"values":[{"e":-0.04,"t":5,"b":-9.3}]},"mark":{"type":"rule"},"encoding":{"y":{"field":"t","type":"quantitative","title":null,"scale":{"domain":[-10,10]}},"y2":{"field":"b"},"color":{"value":"#4472c4"}}}
]},
{"width":252,"height":206,
"encoding":{"x":{"field":"e","type":"quantitative","title":null,"scale":{"domain":[-3,3]}},
"color":{"field":"s","type":"nominal","title":null,"scale":{"domain":["Total","Cu-3d","C-2p","N-2p","Mg-2s","O-2p"],"range":["#000000","#8c8c8c","#8b1a1a","#1c1cf0","#ff40ff","#ff1a1a"]},"legend":{"legendX":81,"legendY":7,"columns":3,"symbolType":"M0,0H7","symbolSize":36,"symbolStrokeWidth":2}}},
"layer":[
{"data":{"name":"p7"},"transform":[{"filter":"isValid(datum.up)"}],"mark":{"type":"line","clip":true},"encoding":{"y":{"field":"up","type":"quantitative","title":null,"scale":{"domain":[-10,10]}}}},
{"data":{"name":"p7"},"transform":[{"filter":"isValid(datum.dn)"}],"mark":{"type":"line","clip":true},"encoding":{"y":{"field":"dn","type":"quantitative","title":null,"scale":{"domain":[-10,10]}}}},
{"data":{"values":[{"e":0.02,"t":4.3,"b":-10}]},"mark":{"type":"rule"},"encoding":{"y":{"field":"t","type":"quantitative","title":null,"scale":{"domain":[-10,10]}},"y2":{"field":"b"},"color":{"value":"#4472c4"}}}
]},
{"width":250,"height":206,
"encoding":{"x":{"field":"e","type":"quantitative","title":"Energy (eV)","scale":{"domain":[-3,3]},"axis":{"titleFontSize":25,"titlePadding":12,"titleX":108}},
"color":{"field":"s","type":"nominal","title":null,"scale":{"domain":["Total","Cu-3d","C-2p","N-2p","S-3p","Mg-2s","O-2p"],"range":["#000000","#8c8c8c","#8b1a1a","#1c1cf0","#ffee00","#ff40ff","#ff1a1a"]},"legend":{"legendX":17,"legendY":6,"columns":4,"symbolType":"M0,0H7","symbolSize":36,"symbolStrokeWidth":2}}},
"layer":[
{"data":{"name":"p8"},"transform":[{"filter":"isValid(datum.up)"}],"mark":{"type":"line","clip":true},"encoding":{"y":{"field":"up","type":"quantitative","title":null,"scale":{"domain":[-10,10]}}}},
{"data":{"name":"p8"},"transform":[{"filter":"isValid(datum.dn)"}],"mark":{"type":"line","clip":true},"encoding":{"y":{"field":"dn","type":"quantitative","title":null,"scale":{"domain":[-10,10]}}}},
{"data":{"values":[{"e":-0.02,"t":4.9,"b":-9.3}]},"mark":{"type":"rule"},"encoding":{"y":{"field":"t","type":"quantitative","title":null,"scale":{"domain":[-10,10]}},"y2":{"field":"b"},"color":{"value":"#4472c4"}}}
]},
{"width":255,"height":206,
"encoding":{"x":{"field":"e","type":"quantitative","title":null,"scale":{"domain":[-3,3]}},
"color":{"field":"s","type":"nominal","title":null,"scale":{"domain":["Total","Cu-3d","C-2p","N-2p","S-3p","Mg-2s","O-2p"],"range":["#000000","#8c8c8c","#8b1a1a","#1c1cf0","#ffee00","#ff40ff","#ff1a1a"]},"legend":{"legendX":28,"legendY":4,"columns":4,"symbolType":"M0,0H7","symbolSize":36,"symbolStrokeWidth":2}}},
"layer":[
{"data":{"name":"p9"},"transform":[{"filter":"isValid(datum.up)"}],"mark":{"type":"line","clip":true},"encoding":{"y":{"field":"up","type":"quantitative","title":null,"scale":{"domain":[-10,10]}}}},
{"data":{"name":"p9"},"transform":[{"filter":"isValid(datum.dn)"}],"mark":{"type":"line","clip":true},"encoding":{"y":{"field":"dn","type":"quantitative","title":null,"scale":{"domain":[-10,10]}}}},
{"data":{"values":[{"e":0.02,"t":4.3,"b":-10}]},"mark":{"type":"rule"},"encoding":{"y":{"field":"t","type":"quantitative","title":null,"scale":{"domain":[-10,10]}},"y2":{"field":"b"},"color":{"value":"#4472c4"}}}
]}
]
}
